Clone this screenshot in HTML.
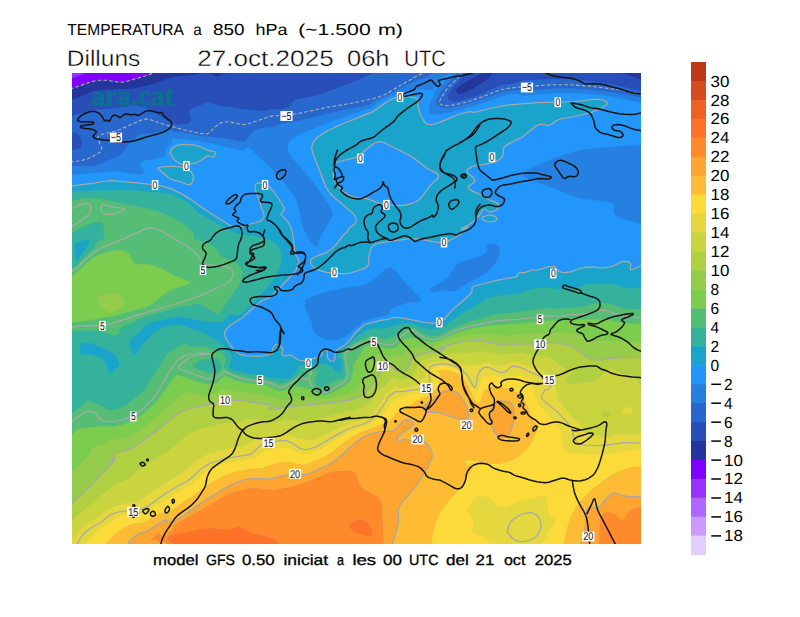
<!DOCTYPE html>
<html><head><meta charset="utf-8"><title>Temperatura a 850 hPa</title>
<style>
html,body{margin:0;padding:0;background:#fff;}
body{width:800px;height:617px;overflow:hidden;position:relative;font-family:"Liberation Sans",sans-serif;}
svg{position:absolute;left:0;top:0;}
text{font-family:"Liberation Sans",sans-serif;text-rendering:geometricPrecision;}
</style></head>
<body>
<svg width="800" height="617" viewBox="0 0 800 617">
<rect width="800" height="617" fill="#fff"/>
<defs><clipPath id="mc"><rect x="72" y="73" width="569" height="471"/></clipPath></defs>
<g clip-path="url(#mc)">
<rect x="72" y="73" width="569" height="471" fill="#2296fa"/>
<g shape-rendering="geometricPrecision">
<path fill="#9832ff" stroke="#9832ff" stroke-width="0.6" fill-rule="evenodd" d="M71.0,71.0 89.5,71.0 88.3,72.0 80.0,75.8 70.0,78.8 70.0,71.0 71.0,71.0Z"/>
<path fill="#8000ff" stroke="#8000ff" stroke-width="0.6" fill-rule="evenodd" d="M89.0,71.6 89.5,71.0 159.6,71.0 145.0,76.0 125.0,81.9 119.0,82.3 107.0,80.2 98.0,80.2 92.0,81.6 70.0,89.1 70.0,78.8 79.0,76.2 89.0,71.6Z"/>
<path fill="#24369b" stroke="#24369b" stroke-width="0.6" fill-rule="evenodd" d="M157.0,71.8 159.6,71.0 231.2,71.0 229.0,72.4 221.0,75.3 218.0,77.0 216.0,77.0 208.0,72.8 206.0,72.5 194.0,75.2 172.0,77.6 152.0,84.7 135.0,88.4 128.0,89.2 103.0,90.2 95.0,91.2 90.0,92.6 83.0,96.1 73.0,99.8 70.0,102.0 70.0,89.1 92.0,81.6 98.0,80.2 105.0,80.0 111.0,80.7 118.0,82.2 124.5,82.0 145.0,76.0 157.0,71.8ZM490.0,72.0 492.0,72.1 492.9,73.0 492.1,75.0 489.7,78.0 487.0,80.2 473.0,89.1 467.6,92.0 462.0,94.0 458.8,94.0 457.0,93.1 456.2,92.0 455.9,90.0 457.0,87.9 459.0,86.0 465.1,82.0 482.0,72.9 490.0,72.0ZM536.0,71.0 643.0,71.0 643.0,81.0 630.0,75.7 614.0,71.8 609.0,72.3 556.5,72.0 536.0,71.0Z"/>
<path fill="#284eb8" stroke="#284eb8" stroke-width="0.6" fill-rule="evenodd" d="M230.0,71.9 231.2,71.0 377.7,71.0 362.0,79.0 319.5,95.0 314.0,96.5 295.5,100.0 293.9,101.0 289.2,107.0 287.3,108.0 282.0,109.4 277.0,110.0 272.0,109.3 264.0,111.0 259.0,111.2 242.0,109.3 218.0,105.8 209.0,103.2 205.0,103.5 198.0,107.0 191.5,109.0 190.0,110.0 189.5,112.0 191.1,118.0 191.2,121.0 190.0,123.0 189.0,123.5 185.0,124.5 178.0,125.0 172.0,124.0 167.7,122.0 151.0,110.4 145.0,107.8 139.0,106.3 131.0,106.2 116.0,108.4 97.0,109.9 90.4,111.0 73.2,116.0 71.9,117.0 71.3,119.0 70.2,130.0 70.5,131.0 72.0,131.9 77.0,132.8 79.0,134.2 81.2,138.0 82.1,144.0 81.0,147.3 80.0,148.5 78.0,149.7 72.0,150.4 70.7,150.0 70.0,149.2 70.0,102.0 72.5,100.0 83.0,96.1 90.0,92.6 95.0,91.2 103.0,90.2 128.0,89.2 135.0,88.4 152.0,84.7 172.0,77.6 194.0,75.2 206.0,72.5 208.0,72.8 216.0,77.0 218.0,77.0 221.0,75.3 230.0,71.9ZM464.0,71.0 535.9,71.0 550.0,71.8 574.0,72.1 609.0,72.3 614.0,71.8 630.0,75.7 643.0,81.0 643.0,91.9 613.0,84.8 587.0,81.0 564.0,79.5 535.0,80.1 522.0,80.9 518.0,83.1 502.0,85.2 498.0,86.6 482.2,94.0 469.0,98.7 456.0,101.9 453.0,102.2 450.0,101.4 448.2,100.0 447.3,98.0 447.3,96.0 448.4,93.0 452.5,87.0 460.5,79.0 463.3,74.0 463.5,71.0 464.0,71.0ZM489.3,72.0 481.8,73.0 465.1,82.0 459.0,86.0 457.0,87.9 455.9,90.0 456.2,92.0 457.0,93.1 458.8,94.0 462.0,94.0 467.6,92.0 473.1,89.0 487.0,80.2 490.0,77.7 492.1,75.0 492.9,73.0 492.0,72.1 489.3,72.0Z"/>
<path fill="#2868ce" stroke="#2868ce" stroke-width="0.6" fill-rule="evenodd" d="M377.0,71.5 377.7,71.0 436.2,71.0 430.0,75.6 424.0,79.0 417.0,80.3 400.0,88.6 386.0,96.0 375.0,100.6 373.1,102.0 371.8,104.0 370.0,105.0 338.0,111.5 304.0,120.0 279.0,124.7 273.0,127.5 262.0,128.6 257.0,129.6 254.0,130.9 252.5,132.0 250.2,135.0 247.6,140.0 245.0,141.7 242.0,141.8 222.0,138.4 203.0,136.6 184.0,133.1 174.0,131.8 172.2,131.0 171.0,129.0 170.0,128.9 153.0,134.0 149.0,134.4 143.0,133.8 140.0,134.5 136.0,137.5 129.0,144.5 124.0,151.4 120.4,155.0 117.0,157.0 108.0,160.7 99.0,165.2 93.0,166.2 70.0,166.3 70.0,149.2 70.7,150.0 72.0,150.4 78.0,149.7 80.0,148.5 81.0,147.3 82.1,144.0 81.2,138.0 79.0,134.2 77.0,132.8 72.0,131.9 70.5,131.0 70.3,129.0 71.5,118.0 72.0,116.8 74.0,115.7 90.0,111.1 95.0,110.1 115.0,108.6 131.0,106.2 137.0,106.1 143.0,107.2 150.0,109.9 155.0,112.8 167.7,122.0 172.0,124.0 178.0,125.0 185.0,124.5 189.0,123.5 190.0,123.0 191.2,121.0 191.1,118.0 189.5,112.0 190.0,110.0 191.5,109.0 198.0,107.0 205.0,103.5 209.0,103.2 218.0,105.8 242.0,109.3 259.0,111.2 264.0,111.0 272.0,109.3 277.0,110.0 282.0,109.4 287.3,108.0 289.2,107.0 293.9,101.0 295.5,100.0 314.0,96.5 319.5,95.0 362.0,79.0 377.0,71.5ZM455.0,71.0 463.5,71.0 463.6,73.0 460.5,79.0 452.5,87.0 449.5,91.0 447.9,94.0 447.2,97.0 447.6,99.0 449.3,101.0 452.0,102.1 455.0,102.1 460.0,101.2 473.0,97.4 482.2,94.0 498.0,86.6 502.0,85.2 518.0,83.1 521.0,81.3 523.0,80.8 551.0,79.6 567.0,79.6 582.0,80.5 601.0,82.8 616.0,85.4 643.0,91.9 643.0,98.4 611.0,92.5 581.0,89.2 561.0,88.6 546.0,89.2 523.5,91.0 517.0,90.2 508.0,91.3 502.0,92.7 475.4,102.0 456.9,107.0 447.0,108.4 443.0,108.2 440.0,107.5 437.5,106.0 436.0,104.0 435.8,102.0 436.7,99.0 439.0,94.3 442.0,89.6 456.1,74.0 456.5,73.0 455.0,71.0Z"/>
<path fill="#2680e2" stroke="#2680e2" stroke-width="0.6" fill-rule="evenodd" d="M436.0,71.2 454.9,71.0 456.5,73.0 454.5,76.0 442.0,89.6 439.0,94.3 436.3,100.0 435.8,103.0 436.6,105.0 439.0,107.0 443.0,108.2 447.0,108.4 452.0,107.9 468.7,104.0 478.5,101.0 499.0,93.6 508.0,91.3 517.0,90.2 523.5,91.0 559.0,88.6 570.0,88.6 585.0,89.5 603.0,91.4 623.0,94.4 643.0,98.4 643.0,103.5 611.2,97.0 593.0,94.6 574.0,93.5 562.0,93.4 548.0,94.0 523.0,96.1 521.0,95.9 518.5,94.0 517.0,93.8 504.2,96.0 476.0,105.7 447.0,113.5 438.0,115.1 431.0,114.6 429.0,113.0 428.5,110.0 429.4,105.0 431.5,99.0 435.5,91.0 438.4,87.0 450.5,74.0 449.0,73.8 444.6,77.0 432.0,90.3 429.0,90.5 417.0,89.4 404.0,91.5 398.0,93.1 393.0,95.1 383.4,100.0 376.5,104.0 374.0,106.6 372.0,107.9 340.0,118.5 299.0,134.9 293.0,138.3 289.4,142.0 288.5,144.0 287.9,147.0 289.0,152.0 293.4,159.0 305.0,171.9 323.0,194.9 330.0,205.8 332.1,210.0 333.0,213.0 332.9,215.0 332.1,218.0 322.7,233.0 320.4,238.0 318.0,246.0 317.0,247.3 316.0,247.5 314.0,246.2 310.8,242.0 306.0,234.2 303.0,228.1 301.0,222.0 297.6,204.0 294.4,197.0 282.4,181.0 276.0,173.5 251.4,150.0 248.0,147.8 246.8,148.0 244.0,150.2 240.0,150.5 216.0,144.7 199.0,141.4 183.0,139.3 172.5,139.0 171.3,140.0 172.5,142.0 172.2,143.0 169.0,145.5 166.7,148.0 165.6,151.0 165.6,155.0 164.0,157.0 160.0,158.2 145.0,160.8 142.0,162.0 141.1,163.0 140.8,164.0 141.4,166.0 145.0,171.2 144.8,173.0 143.0,174.2 140.0,174.8 137.0,174.8 120.0,172.1 113.0,171.6 73.0,174.9 70.0,175.6 70.0,166.3 93.0,166.2 96.0,166.0 99.4,165.0 108.0,160.7 117.0,157.0 120.4,155.0 124.0,151.4 129.0,144.5 137.0,136.6 141.0,134.1 144.0,133.8 149.0,134.4 153.0,134.0 169.0,129.1 171.0,129.0 172.2,131.0 174.0,131.8 184.0,133.1 203.0,136.6 222.0,138.4 242.0,141.8 245.0,141.7 247.6,140.0 250.2,135.0 252.5,132.0 254.0,130.9 257.0,129.6 262.0,128.6 273.0,127.5 279.0,124.7 304.0,120.0 338.0,111.5 370.0,105.0 371.8,104.0 373.1,102.0 375.0,100.6 386.0,96.0 400.0,88.6 417.0,80.3 424.0,79.0 430.0,75.6 436.0,71.2ZM641.0,145.0 643.0,144.9 643.0,224.3 626.0,220.2 620.0,218.3 617.0,216.7 614.9,215.0 613.7,213.0 613.5,210.0 614.3,206.0 613.3,204.0 611.6,203.0 604.0,201.5 583.0,199.2 574.0,197.1 554.0,188.5 530.0,180.3 525.0,177.7 523.2,176.0 522.8,175.0 523.3,173.0 525.4,171.0 538.0,164.7 556.0,156.9 572.0,151.9 583.0,149.5 596.0,147.8 625.0,145.6 641.0,145.0ZM489.0,243.7 494.0,243.6 497.9,245.0 500.2,248.0 500.5,251.0 498.1,259.0 496.0,262.9 491.0,268.8 486.5,273.0 482.0,276.0 468.0,283.3 457.0,290.6 455.0,291.5 452.0,291.8 443.0,290.5 436.0,292.2 433.0,292.4 431.0,292.1 429.5,291.0 429.3,290.0 429.7,289.0 431.0,287.8 443.0,280.4 448.0,276.4 451.0,272.9 456.0,265.2 458.3,263.0 463.0,260.8 477.9,257.0 484.0,253.9 485.9,252.0 487.0,250.0 486.5,246.0 486.8,245.0 489.0,243.7ZM387.0,267.7 389.0,267.2 391.0,267.4 393.0,268.3 394.9,270.0 408.6,286.0 420.5,298.0 421.6,300.0 421.3,301.0 419.0,301.9 409.0,302.8 399.0,305.7 394.0,307.7 391.9,309.0 390.1,311.0 389.0,314.0 387.0,315.7 373.0,318.4 363.0,321.4 358.0,326.2 355.0,328.2 348.0,335.5 343.4,338.0 338.0,340.0 332.0,340.9 326.0,340.1 320.7,338.0 315.0,333.9 312.6,330.0 311.2,322.0 305.2,309.0 304.6,306.0 304.5,301.0 305.6,299.0 318.0,293.9 328.0,291.0 342.8,288.0 360.0,285.4 366.0,283.7 372.7,280.0 387.0,267.7Z"/>
<path fill="#2296fa" stroke="#2296fa" stroke-width="0.6" fill-rule="evenodd" d="M449.0,73.8 450.5,74.0 438.4,87.0 435.5,91.0 431.5,99.0 429.4,105.0 428.5,110.0 429.0,113.0 431.0,114.6 438.0,115.1 447.0,113.5 476.0,105.7 504.2,96.0 517.0,93.8 518.5,94.0 521.0,95.9 523.0,96.1 548.0,94.0 562.0,93.4 574.0,93.5 593.0,94.6 611.2,97.0 643.0,103.5 643.0,144.9 625.0,145.6 596.0,147.8 583.0,149.5 572.0,151.9 556.0,156.9 538.0,164.7 525.4,171.0 523.3,173.0 522.8,175.0 523.2,176.0 525.0,177.7 530.0,180.3 554.0,188.5 574.0,197.1 583.0,199.2 604.0,201.5 611.6,203.0 613.3,204.0 614.3,206.0 613.5,210.0 613.7,213.0 614.9,215.0 617.0,216.7 620.0,218.3 626.0,220.2 643.0,224.3 643.0,264.8 631.0,270.0 630.1,269.0 630.9,265.0 630.2,263.0 628.0,261.6 624.0,261.4 620.0,262.4 613.0,266.0 609.0,267.2 602.0,267.8 591.0,266.9 586.0,267.1 580.0,268.4 571.0,271.8 565.0,272.7 562.0,272.4 559.0,271.3 557.3,270.0 556.0,267.8 555.0,266.9 553.0,266.6 549.0,266.7 538.0,269.9 532.0,270.2 525.0,272.4 519.0,272.9 518.0,273.8 517.0,276.0 515.0,277.1 499.0,279.9 474.8,286.0 472.6,287.0 472.1,288.0 471.9,292.0 470.4,294.0 462.8,301.0 453.0,309.1 444.3,319.0 441.8,321.0 439.0,322.4 435.0,323.1 426.0,322.6 402.0,317.9 396.0,317.5 391.9,318.0 388.0,319.4 381.0,320.2 378.0,321.2 370.0,322.8 364.0,324.7 355.1,333.0 351.0,338.6 347.0,343.0 343.0,346.2 337.0,349.7 335.7,351.0 334.9,353.0 335.0,359.2 334.0,361.0 333.0,361.4 330.5,361.0 328.1,359.0 327.4,357.0 327.3,351.0 326.5,350.0 325.0,349.3 323.0,349.5 321.4,351.0 322.3,354.0 322.1,355.0 321.1,356.0 306.0,360.8 303.0,360.9 298.8,360.0 296.7,359.0 292.0,355.6 290.0,354.9 285.0,355.9 283.0,355.9 282.1,355.0 282.0,354.0 283.1,351.0 282.9,349.0 279.0,344.7 277.0,343.9 275.2,345.0 272.8,348.0 272.4,350.0 273.4,352.0 273.3,353.0 272.0,353.6 266.0,355.2 260.0,356.1 253.0,356.2 246.0,355.7 241.0,354.6 238.0,353.1 234.4,350.0 231.0,346.0 227.0,340.2 225.0,336.0 224.6,333.0 225.6,330.0 230.5,325.0 243.0,317.5 247.3,313.0 262.0,300.5 269.0,297.9 271.0,296.6 285.5,282.0 292.8,274.0 296.3,269.0 298.7,263.0 298.8,261.0 298.4,259.0 295.9,255.0 294.9,252.0 292.9,235.0 291.2,228.0 288.0,221.8 281.4,215.0 281.1,214.0 281.6,213.0 284.0,210.3 284.0,208.0 282.0,204.0 273.3,191.0 270.8,188.0 266.0,184.8 260.0,182.8 257.0,183.3 255.9,184.0 255.0,186.0 255.7,191.0 263.9,214.0 264.0,217.0 262.8,219.0 260.0,221.1 254.3,223.0 243.3,226.0 236.0,227.1 232.0,226.4 229.4,225.0 210.1,213.0 191.0,199.7 183.0,194.6 173.0,189.6 163.0,186.4 157.0,185.2 137.0,182.9 111.0,180.6 106.0,181.0 94.0,183.2 70.0,186.0 70.0,175.6 72.0,175.0 113.0,171.6 120.0,172.1 137.0,174.8 141.0,174.7 143.5,174.0 144.8,173.0 145.0,171.0 141.4,166.0 140.8,164.0 141.1,163.0 142.0,162.0 145.0,160.8 160.0,158.2 164.0,157.0 165.6,155.0 165.6,151.0 166.7,148.0 169.0,145.5 172.2,143.0 172.5,142.0 171.3,140.0 172.5,139.0 183.0,139.3 199.0,141.4 216.0,144.7 240.0,150.5 244.0,150.2 246.8,148.0 248.0,147.8 251.4,150.0 276.0,173.5 282.4,181.0 293.7,196.0 296.1,200.0 297.6,204.0 301.0,222.0 303.9,230.0 308.0,237.6 312.9,245.0 315.0,247.2 316.0,247.5 317.0,247.3 318.0,246.0 320.4,238.0 322.7,233.0 332.1,218.0 332.9,215.0 332.8,212.0 329.0,204.0 320.0,190.8 305.1,172.0 294.2,160.0 290.6,155.0 288.6,151.0 287.9,147.0 288.5,144.0 290.0,141.1 294.0,137.6 301.1,134.0 340.0,118.5 372.0,107.9 374.0,106.6 376.5,104.0 383.4,100.0 397.0,93.5 404.0,91.5 417.0,89.4 429.0,90.5 432.0,90.3 444.6,77.0 449.0,73.8ZM398.4,97.0 394.5,98.0 388.1,101.0 373.0,111.6 339.9,125.0 327.1,131.0 317.8,137.0 314.9,140.0 312.9,143.0 312.0,145.5 311.7,148.0 313.0,153.9 326.0,187.1 329.9,193.0 334.0,197.3 353.0,213.3 355.5,217.0 356.3,221.0 355.6,223.0 349.4,228.0 347.1,232.0 344.0,234.5 336.5,244.0 331.6,249.0 326.0,252.6 314.6,257.0 311.5,259.0 310.8,260.0 310.4,262.0 311.4,265.0 314.0,267.6 318.0,269.9 326.0,272.3 345.0,273.9 350.6,273.0 365.0,268.1 367.7,266.0 368.7,264.0 368.9,256.0 370.8,249.0 372.0,247.0 374.0,245.1 378.0,243.3 396.0,240.3 413.0,238.7 420.0,239.2 435.0,242.2 442.0,242.6 448.0,241.3 454.0,238.3 459.1,235.0 467.2,228.0 467.4,227.0 467.0,226.5 463.0,229.3 462.0,229.7 461.2,229.0 462.0,228.0 468.0,225.5 475.2,220.0 479.0,216.0 483.0,209.8 485.0,209.1 489.0,211.9 492.0,211.9 495.0,210.8 497.0,209.3 498.0,208.0 498.8,206.0 498.3,204.0 497.0,202.9 489.6,200.0 480.0,194.5 471.0,190.4 468.8,189.0 468.1,188.0 468.1,187.0 469.0,185.9 474.0,182.4 474.8,180.0 473.0,177.4 467.5,173.0 466.9,171.0 468.0,169.0 472.0,166.5 491.0,163.2 495.0,162.0 498.8,160.0 501.3,158.0 502.8,156.0 503.4,154.0 503.2,149.0 505.0,146.2 509.0,143.6 522.5,137.0 535.0,126.7 538.0,124.8 541.0,124.2 547.0,125.4 549.0,125.3 552.0,124.0 556.0,120.8 560.0,119.0 576.8,116.0 591.0,112.5 597.0,110.2 605.0,106.2 607.0,104.5 607.3,103.0 606.0,101.5 602.5,100.0 596.0,99.2 575.0,101.5 538.0,102.6 509.0,104.9 491.4,108.0 474.0,112.4 470.0,111.6 467.4,112.0 457.1,115.0 439.0,122.6 433.0,124.4 430.0,124.7 427.0,124.1 425.3,123.0 421.6,117.0 418.4,109.0 417.8,105.0 418.3,100.0 417.0,98.1 414.0,97.3 408.0,96.8 398.4,97.0ZM178.7,145.0 176.0,145.9 172.6,148.0 171.0,150.1 170.3,153.0 173.0,158.0 175.0,160.3 179.0,163.2 182.0,164.3 188.0,164.5 195.0,163.1 201.0,160.5 207.0,156.2 209.0,155.9 212.0,157.2 213.0,157.2 214.4,156.0 215.3,154.0 215.1,152.0 214.0,151.5 209.0,150.7 201.1,147.0 196.0,145.4 187.0,144.3 178.7,145.0ZM161.0,167.0 158.2,168.0 158.7,169.0 168.0,177.2 172.0,179.7 181.0,182.0 188.0,184.8 190.0,184.7 191.0,184.1 192.5,182.0 193.5,178.0 193.0,174.6 191.0,171.6 187.0,168.9 182.0,167.2 176.0,166.5 170.0,166.3 161.0,167.0ZM485.4,216.0 482.9,217.0 482.0,218.0 482.1,219.0 483.0,220.0 486.0,221.3 490.0,221.9 494.0,221.5 496.0,220.6 496.9,219.0 496.0,216.9 493.0,215.4 490.0,215.0 485.4,216.0ZM488.2,244.0 486.8,245.0 486.5,246.0 487.1,249.0 486.6,251.0 484.0,253.9 477.9,257.0 463.0,260.8 458.3,263.0 456.0,265.2 451.0,272.9 448.0,276.4 443.0,280.4 431.0,287.8 429.7,289.0 429.3,290.0 429.5,291.0 431.0,292.1 433.0,292.4 436.0,292.2 443.0,290.5 452.0,291.8 455.0,291.5 457.0,290.6 468.0,283.3 482.0,276.0 486.5,273.0 492.0,267.7 496.6,262.0 499.0,256.6 500.6,250.0 499.7,247.0 497.0,244.4 493.0,243.5 488.2,244.0ZM386.6,268.0 372.7,280.0 366.0,283.7 360.0,285.4 342.8,288.0 328.0,291.0 318.0,293.9 305.6,299.0 304.5,301.0 304.6,306.0 305.2,309.0 311.2,322.0 312.6,330.0 315.0,333.9 320.7,338.0 326.0,340.1 332.0,340.9 338.0,340.0 343.4,338.0 348.0,335.5 355.0,328.2 358.0,326.2 363.0,321.4 373.0,318.4 387.0,315.7 389.0,314.0 390.1,311.0 391.9,309.0 394.0,307.7 399.0,305.7 409.0,302.8 419.0,301.9 421.3,301.0 421.6,300.0 420.5,298.0 408.6,286.0 394.9,270.0 393.0,268.3 391.0,267.4 389.0,267.2 386.6,268.0ZM378.0,141.9 381.0,141.7 384.0,142.5 410.0,155.8 416.0,159.7 426.4,168.0 436.0,173.1 438.3,175.0 438.6,177.0 438.0,178.2 430.7,185.0 421.0,198.0 418.0,200.5 412.0,203.5 404.0,205.3 394.0,205.3 383.0,204.0 376.0,202.2 367.0,198.7 356.0,197.6 351.0,196.2 347.0,194.1 343.0,191.3 337.0,184.8 334.4,180.0 333.3,175.0 333.9,166.0 335.0,163.0 343.0,160.5 353.0,158.4 356.0,157.4 359.7,155.0 371.0,145.5 375.0,143.0 378.0,141.9Z"/>
<path fill="#1aa4cc" stroke="#1aa4cc" stroke-width="0.6" fill-rule="evenodd" d="M399.0,96.9 404.0,96.6 410.0,96.9 417.0,98.1 418.3,100.0 417.8,105.0 418.4,109.0 421.6,117.0 425.3,123.0 427.0,124.1 430.0,124.7 433.0,124.4 439.0,122.6 457.1,115.0 467.4,112.0 470.0,111.6 474.0,112.4 491.4,108.0 509.0,104.9 538.0,102.6 575.0,101.5 596.0,99.2 602.5,100.0 606.0,101.5 607.3,103.0 607.0,104.5 605.0,106.2 597.0,110.2 591.0,112.5 576.8,116.0 560.0,119.0 556.0,120.8 552.0,124.0 549.0,125.3 547.0,125.4 541.0,124.2 538.0,124.8 535.0,126.7 522.5,137.0 509.0,143.6 505.0,146.2 503.2,149.0 503.4,154.0 502.8,156.0 501.3,158.0 498.8,160.0 495.0,162.0 491.0,163.2 472.0,166.5 468.0,169.0 466.9,171.0 467.5,173.0 473.0,177.4 474.8,180.0 474.0,182.4 469.0,185.9 468.1,187.0 468.1,188.0 468.8,189.0 471.0,190.4 480.0,194.5 489.6,200.0 497.0,202.9 498.3,204.0 498.8,206.0 498.0,208.0 497.0,209.3 495.0,210.8 492.0,211.9 489.0,211.9 485.0,209.1 483.0,209.8 479.0,216.0 475.2,220.0 468.0,225.5 462.0,228.0 461.2,229.0 462.0,229.7 463.0,229.3 467.0,226.5 467.4,227.0 467.2,228.0 459.1,235.0 454.0,238.3 448.0,241.3 442.0,242.6 435.0,242.2 420.0,239.2 413.0,238.7 396.0,240.3 378.0,243.3 374.0,245.1 372.0,247.0 370.8,249.0 368.9,256.0 368.7,264.0 367.7,266.0 365.0,268.1 350.6,273.0 345.0,273.9 326.0,272.3 318.0,269.9 314.0,267.6 311.4,265.0 310.4,262.0 310.8,260.0 311.5,259.0 314.6,257.0 326.0,252.6 331.6,249.0 336.5,244.0 344.0,234.5 347.1,232.0 349.4,228.0 355.6,223.0 356.3,221.0 355.5,217.0 353.0,213.3 334.0,197.3 329.9,193.0 326.0,187.1 313.0,153.9 311.7,148.0 312.0,145.5 312.9,143.0 314.9,140.0 317.8,137.0 327.1,131.0 339.9,125.0 373.0,111.6 388.1,101.0 394.5,98.0 399.0,96.9ZM377.7,142.0 375.0,143.0 371.0,145.5 359.7,155.0 356.0,157.4 353.0,158.4 343.0,160.5 335.0,163.0 333.9,166.0 333.3,175.0 334.4,180.0 337.0,184.8 343.0,191.3 347.0,194.1 351.0,196.2 356.0,197.6 367.0,198.7 376.0,202.2 383.0,204.0 394.0,205.3 404.0,205.3 412.0,203.5 418.0,200.5 421.0,198.0 430.7,185.0 438.0,178.2 438.6,177.0 438.3,175.0 436.0,173.1 426.4,168.0 416.0,159.7 410.0,155.8 384.0,142.5 381.0,141.7 377.7,142.0ZM179.0,144.9 187.0,144.3 196.0,145.4 201.1,147.0 209.0,150.7 214.0,151.5 215.1,152.0 215.3,154.0 214.4,156.0 213.0,157.2 212.0,157.2 209.0,155.9 207.0,156.2 201.0,160.5 195.0,163.1 188.0,164.5 182.0,164.3 179.0,163.2 175.0,160.3 173.0,158.0 170.3,153.0 171.0,150.1 172.6,148.0 176.0,145.9 179.0,144.9ZM161.0,167.0 170.0,166.3 176.0,166.5 182.0,167.2 187.0,168.9 191.0,171.6 193.0,174.6 193.5,178.0 192.5,182.0 191.0,184.1 190.0,184.7 188.0,184.8 181.0,182.0 172.0,179.7 168.0,177.2 158.7,169.0 158.2,168.0 161.0,167.0ZM106.0,181.0 114.0,180.7 154.0,184.8 163.0,186.4 170.0,188.5 175.0,190.5 183.0,194.6 213.3,215.0 231.0,226.0 235.0,227.0 243.3,226.0 257.0,222.2 261.0,220.5 263.5,218.0 264.1,215.0 263.4,212.0 255.2,189.0 255.0,186.0 255.9,184.0 259.0,182.7 264.0,183.9 269.0,186.5 272.5,190.0 282.0,204.0 284.0,208.0 284.0,210.3 281.6,213.0 281.1,214.0 281.4,215.0 288.0,221.8 291.2,228.0 292.9,235.0 294.9,252.0 295.9,255.0 298.4,259.0 298.8,261.0 298.7,263.0 296.3,269.0 292.8,274.0 285.5,282.0 271.0,296.6 269.0,297.9 262.0,300.5 247.3,313.0 243.0,317.5 230.5,325.0 225.6,330.0 224.6,333.0 225.0,336.0 229.0,343.3 233.0,348.4 237.0,352.3 240.0,354.2 244.0,355.4 251.0,356.2 259.0,356.1 265.0,355.4 272.0,353.6 273.3,353.0 273.4,352.0 272.4,350.0 272.8,348.0 275.2,345.0 277.0,343.9 279.0,344.7 282.9,349.0 283.1,351.0 282.0,354.0 282.1,355.0 283.0,355.9 285.0,355.9 290.0,354.9 292.0,355.6 296.7,359.0 298.8,360.0 303.0,360.9 306.0,360.8 321.1,356.0 322.1,355.0 322.3,354.0 321.4,351.0 323.0,349.5 325.0,349.3 326.5,350.0 327.3,351.0 327.4,357.0 328.1,359.0 330.5,361.0 333.0,361.4 334.0,361.0 335.0,359.2 334.9,353.0 335.7,351.0 337.0,349.7 343.0,346.2 347.0,343.0 351.0,338.6 355.1,333.0 364.0,324.7 370.0,322.8 378.0,321.2 381.0,320.2 388.0,319.4 391.9,318.0 396.0,317.5 402.0,317.9 425.0,322.5 433.0,323.1 438.0,322.7 441.0,321.4 444.3,319.0 453.0,309.1 462.8,301.0 470.4,294.0 471.9,292.0 472.1,288.0 473.0,286.7 495.0,280.8 515.0,277.1 517.0,276.0 518.0,273.8 519.0,272.9 525.0,272.4 532.0,270.2 538.0,269.9 548.0,266.9 552.0,266.5 555.0,266.9 556.0,267.8 557.3,270.0 559.0,271.3 562.0,272.4 566.0,272.6 571.0,271.8 580.0,268.4 586.0,267.1 591.0,266.9 602.0,267.8 609.0,267.2 612.9,266.0 621.0,262.1 624.0,261.4 627.0,261.4 629.0,262.0 630.7,264.0 630.8,266.0 630.1,269.0 631.0,270.0 643.0,264.8 643.0,285.7 636.0,288.5 630.0,288.7 626.0,288.2 620.0,286.0 611.0,284.2 591.0,284.3 586.0,285.1 578.0,287.8 566.0,289.3 559.0,289.4 545.0,287.5 536.0,288.5 529.0,290.0 522.0,292.8 500.0,295.8 487.0,298.5 481.0,303.0 460.0,314.8 446.0,325.4 441.0,328.2 437.0,329.6 433.0,329.8 428.0,329.2 414.0,324.5 408.0,323.5 396.7,325.0 386.0,328.6 378.0,328.9 374.0,328.5 369.0,329.6 365.0,331.0 358.0,336.2 352.0,342.0 340.0,352.4 339.2,354.0 339.2,357.0 341.8,361.0 342.2,363.0 340.8,372.0 340.0,373.0 339.0,373.0 337.0,372.0 330.0,366.0 326.0,364.4 323.0,364.0 315.0,364.6 310.4,367.0 308.0,367.5 307.0,367.4 304.0,365.7 300.0,365.6 299.0,366.1 298.0,367.4 296.0,373.3 294.8,375.0 290.2,378.0 285.0,379.0 279.0,379.0 266.3,377.0 249.3,374.0 236.0,371.0 233.4,370.0 229.0,367.4 228.8,366.0 231.7,358.0 231.3,356.0 225.0,348.0 217.0,340.5 201.0,332.0 195.0,330.9 187.0,327.1 177.0,324.6 168.0,326.3 163.0,327.7 154.0,333.3 144.1,343.0 137.0,353.2 135.0,355.2 134.0,355.0 133.0,353.7 129.6,347.0 129.4,344.0 130.6,339.0 131.3,338.0 136.0,335.1 146.2,325.0 149.1,323.0 155.0,321.2 179.0,316.2 193.0,319.3 198.0,319.3 201.6,321.0 204.0,321.6 221.0,321.9 222.8,321.0 230.0,314.7 232.0,314.3 239.0,314.7 241.0,314.1 264.8,290.0 273.0,279.9 277.2,273.0 280.0,266.0 281.5,259.0 281.3,254.0 280.0,250.2 278.0,246.8 275.0,243.5 272.0,241.5 266.0,239.1 255.0,236.3 249.0,235.3 240.0,234.6 236.0,233.6 231.0,231.6 199.0,213.5 197.0,212.0 192.8,207.0 190.5,205.0 184.0,201.0 175.0,196.4 173.0,194.8 161.1,193.0 125.0,190.0 87.0,191.1 73.0,191.8 70.0,192.6 70.0,186.0 95.0,183.1 106.0,181.0ZM486.0,215.8 490.0,215.0 493.0,215.4 496.0,216.9 496.9,219.0 496.5,220.0 495.4,221.0 493.0,221.7 489.0,221.8 485.1,221.0 482.9,220.0 482.1,219.0 482.0,218.0 483.0,216.9 486.0,215.8ZM85.0,239.7 88.0,239.4 89.0,240.0 89.2,242.0 88.6,245.0 79.4,258.0 77.0,260.2 76.0,260.1 74.8,257.0 74.2,253.0 74.2,248.0 75.0,244.0 76.0,243.0 85.0,239.7ZM82.0,342.6 84.0,342.3 91.0,343.1 109.0,350.8 113.0,353.0 115.4,355.0 118.0,360.0 119.7,364.0 119.4,366.0 112.0,372.1 110.0,372.8 108.0,370.0 104.3,361.0 102.2,359.0 92.0,354.7 89.0,354.4 82.0,355.0 80.0,354.3 79.5,352.0 79.6,347.0 80.6,344.0 82.0,342.6Z"/>
<path fill="#35b29b" stroke="#35b29b" stroke-width="0.6" fill-rule="evenodd" d="M90.0,191.0 126.0,190.1 161.1,193.0 173.0,194.8 175.0,196.4 184.0,201.0 190.5,205.0 192.8,207.0 197.0,212.0 199.0,213.5 231.0,231.6 236.0,233.6 240.0,234.6 254.0,236.1 265.8,239.0 271.1,241.0 274.3,243.0 277.0,245.5 279.4,249.0 281.0,253.0 281.5,259.0 280.3,265.0 278.0,271.3 274.0,278.4 270.0,284.0 265.0,289.8 241.0,314.1 239.0,314.7 232.0,314.3 230.0,314.7 222.8,321.0 221.0,321.9 204.0,321.6 201.6,321.0 198.0,319.3 193.0,319.3 179.0,316.2 155.0,321.2 149.1,323.0 146.2,325.0 136.0,335.1 131.3,338.0 130.6,339.0 129.4,344.0 129.6,347.0 133.0,353.7 134.0,355.0 135.0,355.2 137.0,353.2 144.1,343.0 154.0,333.3 160.5,329.0 164.0,327.3 175.0,324.9 178.0,324.7 187.0,327.1 195.0,330.9 201.0,332.0 217.0,340.5 225.0,348.0 231.3,356.0 231.7,358.0 228.8,367.0 229.5,368.0 233.4,370.0 244.5,373.0 260.3,376.0 279.0,379.0 285.2,379.0 290.2,378.0 294.8,375.0 296.0,373.3 298.3,367.0 299.0,366.1 301.0,365.5 304.0,365.7 307.0,367.4 308.0,367.5 310.4,367.0 314.0,365.0 316.0,364.4 323.0,364.0 326.0,364.4 331.0,366.7 337.0,372.0 339.0,373.0 340.0,373.0 340.8,372.0 342.2,363.0 341.8,361.0 339.2,357.0 339.1,355.0 339.6,353.0 341.3,351.0 352.0,342.0 358.0,336.2 366.0,330.6 374.0,328.5 378.0,328.9 386.0,328.6 396.7,325.0 408.0,323.5 414.0,324.5 428.0,329.2 433.0,329.8 437.0,329.6 441.0,328.2 446.0,325.4 460.0,314.8 481.0,303.0 487.0,298.5 500.0,295.8 522.0,292.8 529.0,290.0 534.0,288.9 545.0,287.5 559.0,289.4 567.0,289.2 578.0,287.8 586.0,285.1 591.0,284.3 611.0,284.2 620.0,286.0 626.0,288.2 630.0,288.7 636.0,288.5 643.0,285.7 643.0,309.5 632.0,309.4 624.0,308.6 619.0,307.4 611.0,303.9 604.0,303.0 593.0,304.2 581.0,307.1 560.0,308.8 547.0,308.3 542.0,308.7 528.0,311.1 501.0,313.7 492.0,315.1 488.0,316.7 471.0,321.2 465.0,323.2 451.0,329.4 440.0,335.4 437.0,336.3 432.0,336.5 426.0,335.2 422.0,333.2 415.0,328.6 411.0,327.3 407.9,328.0 394.0,336.6 386.0,339.4 382.0,339.3 377.0,338.1 373.0,336.6 370.0,336.9 356.0,342.4 350.0,346.1 345.5,350.0 343.4,353.0 342.5,356.0 344.5,363.0 344.6,368.0 345.5,374.0 344.8,377.0 344.0,378.2 342.0,379.7 338.0,379.8 330.0,383.1 328.0,384.1 325.0,387.0 323.0,387.6 321.0,387.5 317.0,385.6 314.7,383.0 314.4,381.0 314.7,379.0 317.9,372.0 317.6,371.0 317.0,370.7 312.0,369.7 306.2,371.0 307.0,371.4 307.3,374.0 306.4,376.0 305.0,377.0 303.0,376.8 301.5,376.0 300.0,373.0 298.7,375.0 292.0,380.5 283.0,384.0 279.0,384.3 271.3,381.0 247.0,377.6 239.0,375.5 233.0,373.3 227.9,371.0 223.6,368.0 223.5,366.0 225.1,362.0 225.4,359.0 223.5,355.0 220.0,351.9 217.0,350.6 211.0,349.1 206.0,346.9 202.0,346.7 192.0,347.1 186.0,344.4 184.0,344.1 179.0,346.2 170.0,352.2 167.0,354.8 145.2,389.0 139.0,395.0 125.0,406.1 118.5,409.0 110.0,410.6 108.0,410.1 105.0,408.6 99.0,404.4 91.0,401.7 88.0,401.3 86.0,402.1 79.8,408.0 70.0,414.8 70.0,333.6 71.5,332.0 74.0,330.9 80.0,330.0 98.0,330.8 106.0,332.7 112.0,335.2 115.0,335.0 118.0,333.9 119.0,332.7 120.6,328.0 122.0,326.3 134.0,322.0 138.0,319.0 140.0,318.1 181.0,306.3 183.0,305.9 188.0,306.1 197.0,303.3 200.0,304.0 215.0,312.4 217.0,313.1 219.0,312.9 221.0,310.8 238.3,286.0 240.7,281.0 241.9,276.0 241.8,272.0 241.0,269.0 239.4,266.0 236.7,263.0 233.0,260.8 221.4,257.0 220.0,255.3 218.8,252.0 217.0,249.3 214.5,247.0 211.2,245.0 205.0,242.5 194.8,240.0 193.3,233.0 191.0,229.5 176.0,219.8 164.0,213.6 157.0,210.9 150.0,209.0 128.0,205.1 101.0,199.0 92.0,198.3 85.0,198.4 79.0,199.3 70.0,201.5 70.0,192.6 73.0,191.8 90.0,191.0ZM81.3,343.0 79.6,347.0 79.5,352.0 80.0,354.3 82.0,355.0 89.0,354.4 92.0,354.7 102.2,359.0 104.3,361.0 108.0,370.0 110.0,372.8 112.0,372.1 119.4,366.0 119.7,364.0 118.0,360.0 115.4,355.0 113.0,353.0 109.0,350.8 91.0,343.1 84.0,342.3 81.3,343.0ZM302.6,370.0 301.2,371.0 302.0,371.5 304.0,371.6 305.9,371.0 304.9,370.0 302.6,370.0ZM97.0,221.9 101.0,222.0 103.0,223.2 104.8,235.0 104.6,238.0 103.4,239.0 98.0,241.5 97.0,242.7 94.8,248.0 89.0,252.5 80.0,262.0 78.0,265.1 73.0,267.4 70.0,267.2 70.0,250.8 70.5,241.0 71.0,236.0 72.0,233.1 82.0,226.8 87.0,225.3 91.0,222.9 97.0,221.9ZM84.0,240.0 76.0,243.0 75.0,244.0 74.2,248.0 74.2,253.0 74.8,257.0 76.0,260.1 77.0,260.2 79.4,258.0 88.6,245.0 89.2,242.0 89.0,240.0 87.0,239.4 84.0,240.0ZM211.0,357.9 214.0,357.4 216.0,357.7 218.0,358.8 219.8,361.0 221.6,365.0 221.7,367.0 221.0,369.0 219.0,371.7 217.0,373.2 210.0,373.5 196.7,369.0 192.7,367.0 192.5,366.0 193.1,365.0 199.4,360.0 203.0,359.0 209.0,358.6 211.0,357.9Z"/>
<path fill="#56be74" stroke="#56be74" stroke-width="0.6" fill-rule="evenodd" d="M81.0,198.9 90.0,198.2 101.0,199.0 128.0,205.1 149.0,208.8 160.0,212.0 172.9,218.0 182.9,224.0 191.6,230.0 193.6,234.0 194.3,239.0 194.8,240.0 206.0,242.8 212.0,245.4 215.0,247.4 217.6,250.0 220.0,255.3 221.4,257.0 233.0,260.8 237.8,264.0 240.6,268.0 241.9,273.0 241.3,279.0 239.0,284.7 234.3,292.0 221.0,310.8 219.0,312.9 217.0,313.1 215.0,312.4 200.0,304.0 197.0,303.3 188.0,306.1 183.0,305.9 181.0,306.3 140.0,318.1 138.0,319.0 134.0,322.0 122.0,326.3 120.6,328.0 119.0,332.7 118.0,333.9 115.0,335.0 112.0,335.2 106.0,332.7 99.0,330.9 82.0,330.0 78.0,330.2 73.0,331.2 70.0,333.6 70.0,322.8 89.0,320.1 114.0,315.7 145.0,307.3 152.0,304.0 163.1,295.0 170.0,290.2 174.0,288.4 188.0,284.2 189.7,283.0 189.7,282.0 189.0,281.5 175.0,276.1 161.0,268.7 156.0,266.6 148.0,264.5 138.0,264.4 135.0,263.8 132.8,262.0 130.0,256.1 127.6,253.0 125.0,251.2 121.0,250.3 116.0,250.5 108.2,252.0 101.4,254.0 96.8,256.0 90.0,260.5 72.0,276.6 70.0,277.9 70.0,267.2 73.0,267.4 78.0,265.1 80.0,262.0 89.0,252.5 94.8,248.0 97.0,242.7 98.0,241.5 103.4,239.0 104.6,238.0 104.9,237.0 103.7,226.0 102.8,223.0 101.0,222.0 99.0,221.8 91.0,222.9 87.0,225.3 81.0,227.3 72.0,233.1 70.8,237.0 70.0,250.8 70.0,201.5 81.0,198.9ZM603.0,303.0 611.0,303.9 619.0,307.4 624.0,308.6 632.0,309.4 643.0,309.5 643.0,324.3 624.0,323.3 617.0,322.2 609.0,320.2 599.0,319.4 572.0,320.0 559.0,321.0 545.0,320.9 528.0,322.9 492.0,325.6 472.0,328.5 455.0,333.6 441.3,340.0 434.0,342.1 426.0,341.4 417.0,338.3 407.0,338.2 405.0,338.9 403.0,340.3 396.5,347.0 394.0,348.2 391.0,348.7 387.0,348.6 377.0,345.8 368.0,345.7 366.0,346.3 364.2,348.0 353.5,365.0 353.0,367.0 353.5,371.0 352.0,375.0 351.2,380.0 349.9,382.0 344.0,386.3 329.4,394.0 326.0,395.0 323.0,394.9 320.0,394.1 307.0,388.3 295.0,386.3 290.0,387.8 283.0,391.3 280.0,391.4 266.0,385.9 244.0,383.0 235.0,380.5 225.0,376.2 223.0,377.0 217.0,382.8 209.0,384.6 206.0,384.7 180.0,376.0 177.0,375.4 175.7,376.0 174.0,377.9 161.2,396.0 155.0,403.5 144.7,413.0 135.0,419.9 125.0,424.2 115.0,426.5 109.0,426.9 103.0,426.3 78.0,429.2 76.2,430.0 73.0,433.8 70.0,436.1 70.0,414.8 79.8,408.0 86.0,402.1 88.0,401.3 91.0,401.7 99.0,404.4 105.0,408.6 108.0,410.1 110.0,410.6 118.5,409.0 125.0,406.1 139.0,395.0 145.2,389.0 167.0,354.8 170.0,352.2 178.0,346.8 183.0,344.4 186.0,344.4 192.0,347.1 202.0,346.7 206.0,346.9 211.0,349.1 217.0,350.6 220.0,351.9 223.5,355.0 225.4,359.0 225.1,362.0 223.5,366.0 223.6,368.0 227.9,371.0 233.0,373.3 239.0,375.5 247.0,377.6 271.3,381.0 279.0,384.3 283.0,384.0 292.0,380.5 298.7,375.0 300.0,373.0 301.5,376.0 303.0,376.8 305.0,377.0 306.4,376.0 307.3,374.0 307.0,371.4 306.2,371.0 312.0,369.7 317.0,370.7 317.6,371.0 317.9,372.0 314.7,379.0 314.4,381.0 314.7,383.0 317.0,385.6 321.0,387.5 323.0,387.6 325.0,387.0 329.0,383.5 338.0,379.8 342.0,379.7 344.0,378.2 345.2,376.0 345.5,374.0 344.6,368.0 344.5,363.0 342.5,356.0 342.9,354.0 343.9,352.0 347.6,348.0 355.0,343.0 360.0,340.5 369.0,337.1 373.0,336.6 377.0,338.1 382.0,339.3 386.0,339.4 394.0,336.6 406.1,329.0 410.0,327.3 414.0,328.1 423.0,333.8 427.0,335.5 432.0,336.5 437.0,336.3 440.0,335.4 451.0,329.4 465.0,323.2 471.0,321.2 488.0,316.7 493.0,314.9 527.0,311.2 544.0,308.5 560.0,308.8 581.0,307.1 593.0,304.2 603.0,303.0ZM210.8,358.0 209.0,358.6 203.0,359.0 199.4,360.0 193.1,365.0 192.5,366.0 192.7,367.0 196.7,369.0 210.0,373.5 217.0,373.2 219.0,371.7 221.0,369.0 221.7,367.0 221.6,365.0 219.8,361.0 217.0,358.1 214.0,357.4 210.8,358.0ZM303.0,369.9 304.9,370.0 305.9,371.0 304.0,371.6 302.0,371.5 301.2,371.0 303.0,369.9Z"/>
<path fill="#7ccc4e" stroke="#7ccc4e" stroke-width="0.6" fill-rule="evenodd" d="M113.0,251.0 120.0,250.2 125.0,251.2 128.5,254.0 130.5,257.0 132.8,262.0 135.0,263.8 138.0,264.4 148.0,264.5 156.0,266.6 161.0,268.7 175.0,276.1 189.0,281.5 189.7,282.0 189.7,283.0 188.0,284.2 174.0,288.4 170.0,290.2 163.1,295.0 152.0,304.0 145.0,307.3 114.0,315.7 89.0,320.1 70.0,322.8 70.0,277.9 72.0,276.6 89.4,261.0 94.0,257.6 102.0,253.8 113.0,251.0ZM105.4,294.0 99.0,296.5 98.0,297.0 97.4,298.0 97.9,300.0 100.8,306.0 103.4,309.0 106.0,310.9 108.9,312.0 111.0,312.1 115.7,311.0 120.0,308.5 123.3,305.0 124.2,303.0 124.0,300.0 122.6,298.0 120.0,296.0 115.2,294.0 112.0,293.3 109.0,293.3 105.4,294.0ZM572.0,320.0 599.0,319.4 609.0,320.2 617.0,322.2 624.0,323.3 643.0,324.3 643.0,342.2 610.0,341.3 603.0,340.7 597.0,341.3 585.0,337.8 577.0,334.4 570.0,333.2 556.0,332.5 546.0,332.4 535.0,333.6 522.0,334.0 507.0,335.5 488.0,334.1 477.0,334.4 472.0,334.0 459.0,337.1 439.0,343.4 434.0,346.7 410.0,348.0 408.0,349.2 403.0,353.8 393.0,356.8 388.0,356.4 381.0,354.3 378.0,354.3 376.0,354.8 374.7,356.0 369.6,364.0 368.2,370.0 361.5,381.0 359.4,386.0 358.0,387.7 354.0,390.4 348.0,393.0 330.0,398.4 321.0,399.0 297.0,396.4 286.0,399.2 280.0,400.0 273.0,397.4 263.0,395.0 223.0,389.3 221.0,389.5 217.0,392.6 215.0,393.4 203.0,395.9 200.0,395.5 191.0,392.5 188.0,392.3 183.0,394.7 175.8,400.0 155.7,418.0 142.0,428.6 135.0,433.1 126.0,437.5 110.0,440.2 108.5,441.0 105.0,444.4 94.7,446.0 93.5,447.0 88.0,456.0 77.0,467.1 70.0,473.0 70.0,436.1 73.0,433.8 76.0,430.2 79.0,429.1 103.0,426.3 109.0,426.9 115.0,426.5 124.0,424.6 134.0,420.5 143.4,414.0 154.6,404.0 161.2,396.0 174.0,377.9 175.7,376.0 177.0,375.4 180.0,376.0 206.0,384.7 209.0,384.6 217.0,382.8 223.0,377.0 225.0,376.2 235.0,380.5 244.0,383.0 266.0,385.9 280.0,391.4 283.0,391.3 290.0,387.8 295.0,386.3 307.0,388.3 320.0,394.1 323.0,394.9 326.0,395.0 329.4,394.0 344.0,386.3 349.9,382.0 351.2,380.0 352.0,375.0 353.5,371.0 353.0,367.0 353.5,365.0 364.2,348.0 365.0,347.0 367.0,345.9 370.0,345.5 376.0,345.7 387.0,348.6 391.0,348.7 394.0,348.2 396.5,347.0 403.0,340.3 405.0,338.9 407.0,338.2 417.0,338.3 426.0,341.4 434.0,342.1 441.3,340.0 455.0,333.6 472.0,328.5 492.0,325.6 528.0,322.9 544.0,321.0 560.0,320.9 572.0,320.0Z"/>
<path fill="#96cc4b" stroke="#96cc4b" stroke-width="0.6" fill-rule="evenodd" d="M106.0,293.8 110.0,293.2 113.0,293.5 117.0,294.6 121.0,296.6 123.0,298.4 124.0,300.0 124.2,303.0 123.3,305.0 120.0,308.5 115.7,311.0 111.0,312.1 108.9,312.0 106.0,310.9 103.4,309.0 100.8,306.0 97.9,300.0 97.4,298.0 98.0,297.0 99.0,296.5 106.0,293.8ZM541.0,332.9 551.0,332.3 571.0,333.3 579.0,335.0 585.0,337.8 597.0,341.3 603.0,340.7 610.0,341.3 643.0,342.2 643.0,358.1 631.0,357.4 623.0,357.4 613.0,358.2 601.0,359.9 595.0,359.9 591.0,359.2 586.1,357.0 575.0,348.3 572.0,346.6 567.7,345.0 562.0,343.9 554.0,343.0 548.0,342.8 535.0,344.1 522.0,343.7 512.0,345.1 506.0,345.3 498.0,344.4 483.0,341.1 472.0,340.7 467.3,341.0 460.0,342.2 449.6,345.0 447.5,346.0 442.6,350.0 440.0,351.3 429.0,352.1 414.0,356.7 411.7,359.0 408.0,368.0 406.0,370.2 403.0,371.6 400.0,371.6 397.0,370.6 392.9,368.0 388.0,364.0 386.0,363.7 384.7,365.0 376.3,380.0 366.0,392.6 360.0,396.8 352.0,399.6 333.0,402.6 293.0,406.2 271.0,409.7 269.0,409.0 269.0,408.0 271.6,407.0 271.7,406.0 270.0,405.1 245.0,401.2 231.0,400.1 223.0,400.6 209.0,404.6 193.0,407.7 183.2,411.0 176.0,414.9 157.0,430.6 142.0,441.5 132.0,448.1 125.0,451.2 122.0,451.6 119.0,451.3 116.7,452.0 117.2,453.0 116.0,453.0 114.7,455.0 114.5,457.0 115.1,459.0 114.0,461.2 89.4,487.0 72.4,503.0 70.0,504.8 70.0,473.0 77.0,467.1 88.0,456.0 94.0,446.5 96.0,445.6 105.0,444.4 108.5,441.0 110.0,440.2 127.0,437.2 136.0,432.5 142.0,428.6 156.0,417.7 175.8,400.0 182.6,395.0 187.0,392.6 190.0,392.2 201.0,395.8 203.0,395.9 215.0,393.4 217.0,392.6 221.0,389.5 223.0,389.3 263.0,395.0 273.0,397.4 280.0,400.0 286.0,399.2 297.0,396.4 321.0,399.0 329.0,398.5 348.0,393.0 354.0,390.4 358.0,387.7 359.4,386.0 361.5,381.0 368.2,370.0 369.0,368.0 369.2,365.0 370.2,363.0 374.7,356.0 377.0,354.5 382.0,354.5 388.0,356.4 393.0,356.8 403.0,353.8 408.0,349.2 410.0,348.0 434.0,346.7 439.0,343.4 459.0,337.1 472.0,334.0 477.0,334.4 488.0,334.1 507.0,335.5 521.0,334.1 533.0,333.8 541.0,332.9ZM440.4,347.0 439.9,348.0 441.0,348.3 443.5,347.0 442.0,346.5 440.4,347.0ZM111.7,459.0 110.7,460.0 111.0,461.0 112.7,460.0 112.7,459.0 111.7,459.0Z"/>
<path fill="#b0d041" stroke="#b0d041" stroke-width="0.6" fill-rule="evenodd" d="M468.0,340.9 483.0,341.1 498.0,344.4 506.0,345.3 512.0,345.1 522.0,343.7 535.0,344.1 548.0,342.8 554.0,343.0 562.0,343.9 567.7,345.0 572.0,346.6 575.0,348.3 586.1,357.0 591.0,359.2 595.0,359.9 601.0,359.9 613.0,358.2 623.0,357.4 631.0,357.4 643.0,358.1 643.0,389.0 640.0,386.1 636.0,378.0 634.2,376.0 626.0,375.1 610.0,368.5 608.0,368.6 606.0,369.8 602.8,373.0 598.4,379.0 594.0,381.5 591.0,382.1 585.0,382.3 579.0,383.4 569.0,383.8 567.0,383.4 566.0,382.3 565.8,381.0 567.0,378.0 570.0,374.5 575.6,370.0 576.3,369.0 576.6,367.0 576.0,366.2 575.0,366.1 572.0,366.8 567.0,369.0 565.0,368.7 551.0,357.3 547.0,356.1 535.0,355.3 526.0,353.4 521.0,352.9 499.0,354.5 487.0,351.7 482.0,351.3 469.0,353.0 454.0,352.3 442.0,356.3 430.0,357.4 423.0,359.9 419.9,362.0 417.8,365.0 415.9,372.0 413.0,375.8 411.0,377.2 407.0,378.9 402.0,379.7 398.0,379.1 394.0,377.6 392.0,377.9 376.8,392.0 372.6,398.0 368.0,403.0 363.0,406.6 358.0,408.8 310.0,421.0 296.0,419.9 287.0,420.1 267.0,422.8 258.0,418.5 247.0,419.0 240.0,421.8 232.0,422.1 226.0,422.8 203.0,428.3 197.0,430.1 192.0,432.2 188.0,434.5 183.4,438.0 169.0,450.6 139.0,469.6 128.0,478.5 123.0,481.1 118.0,482.2 114.0,485.0 110.7,488.0 99.9,496.0 88.6,506.0 76.0,515.9 74.0,518.1 72.0,521.8 70.0,522.2 70.0,504.8 72.4,503.0 89.4,487.0 114.0,461.2 115.1,459.0 114.5,457.0 114.7,455.0 116.0,453.0 117.2,453.0 116.7,452.0 119.0,451.3 123.0,451.6 126.0,450.9 135.0,446.3 150.0,435.8 163.0,426.0 174.0,416.3 183.0,411.1 194.0,407.5 208.0,404.8 221.2,401.0 226.0,400.2 234.0,400.2 243.6,401.0 269.4,405.0 271.7,406.0 271.6,407.0 268.9,408.0 269.0,409.0 271.0,409.7 293.0,406.2 333.0,402.6 352.0,399.6 360.0,396.8 366.0,392.6 376.3,380.0 384.7,365.0 386.0,363.7 388.0,364.0 392.9,368.0 397.0,370.6 400.0,371.6 403.0,371.6 406.0,370.2 408.0,368.0 411.7,359.0 414.0,356.7 429.0,352.1 440.0,351.3 442.6,350.0 447.5,346.0 449.6,345.0 460.7,342.0 468.0,340.9ZM441.0,346.7 443.5,347.0 442.0,348.0 440.0,348.2 440.4,347.0 441.0,346.7ZM603.0,411.9 606.0,411.1 609.0,411.5 610.7,413.0 610.5,415.0 609.0,416.3 607.0,416.9 603.0,416.7 601.0,415.0 600.9,414.0 601.4,413.0 603.0,411.9ZM112.0,458.9 112.7,459.0 112.7,460.0 111.0,461.0 110.7,460.0 112.0,458.9Z"/>
<path fill="#cad43e" stroke="#cad43e" stroke-width="0.6" fill-rule="evenodd" d="M477.0,351.8 482.0,351.3 486.0,351.6 500.0,354.6 517.0,352.9 522.0,353.0 535.0,355.3 545.0,355.9 550.0,356.8 565.0,368.7 567.0,369.0 572.0,366.8 575.0,366.1 576.0,366.2 576.6,367.0 576.0,369.5 570.0,374.5 566.4,379.0 565.9,382.0 566.5,383.0 568.0,383.7 579.0,383.4 585.0,382.3 591.0,382.1 594.0,381.5 598.0,379.4 604.7,371.0 607.0,369.1 609.0,368.4 611.7,369.0 626.0,375.1 634.0,375.9 636.0,378.0 640.0,386.1 643.0,389.0 643.0,428.0 642.0,428.7 640.0,433.7 637.0,435.1 626.0,435.1 619.0,433.5 616.0,434.1 611.0,436.2 604.0,436.9 599.0,435.9 591.0,435.7 588.0,435.0 583.3,431.0 579.3,424.0 570.9,415.0 557.6,399.0 556.5,396.0 555.4,384.0 554.6,382.0 551.0,377.3 547.0,373.7 544.0,371.7 530.0,366.8 522.0,363.4 517.0,362.3 513.0,362.1 506.0,364.2 496.0,365.2 490.0,363.0 485.0,362.5 478.0,364.4 465.0,365.6 453.0,361.6 444.0,361.1 434.0,362.0 429.0,363.7 426.1,366.0 425.3,368.0 425.5,373.0 425.0,375.5 418.0,384.3 415.0,385.7 403.0,387.8 400.0,387.8 396.0,386.9 394.0,387.2 384.0,395.7 381.0,401.8 374.0,411.7 370.0,415.3 365.0,418.3 350.0,423.2 342.0,426.2 314.0,439.8 299.0,438.7 292.0,436.0 285.0,434.7 271.0,435.6 264.0,437.1 261.0,436.9 242.0,446.5 224.0,449.6 215.0,451.8 207.0,454.4 202.0,456.9 196.1,461.0 187.0,469.4 183.0,472.5 162.0,484.8 142.0,499.0 135.0,502.0 126.0,503.1 121.0,504.3 112.0,507.4 107.0,509.9 98.0,517.3 88.0,523.5 82.0,528.0 79.0,531.3 75.0,538.0 74.0,538.8 73.0,537.0 71.2,532.0 70.9,527.0 70.0,524.9 70.0,522.2 72.0,521.8 74.0,518.1 76.0,515.9 88.6,506.0 99.9,496.0 110.7,488.0 114.0,485.0 118.0,482.2 123.0,481.1 128.0,478.5 139.0,469.6 169.0,450.6 183.4,438.0 188.0,434.5 192.0,432.2 197.0,430.1 203.0,428.3 226.0,422.8 232.0,422.1 240.0,421.8 246.0,419.2 258.0,418.5 267.0,422.8 287.0,420.1 301.0,420.2 309.0,421.1 357.0,409.1 362.3,407.0 368.0,403.0 372.6,398.0 376.8,392.0 392.0,377.9 394.0,377.6 398.0,379.1 402.0,379.7 407.0,378.9 412.0,376.6 415.9,372.0 418.3,364.0 420.0,361.9 422.8,360.0 431.0,357.2 442.0,356.3 454.0,352.3 469.0,353.0 477.0,351.8ZM626.2,408.0 623.3,409.0 622.1,410.0 621.6,411.0 622.0,412.4 623.0,413.2 626.0,413.8 629.0,413.8 631.0,413.2 632.4,410.0 632.5,408.0 632.0,407.3 631.0,407.0 626.2,408.0ZM602.8,412.0 601.4,413.0 600.9,414.0 601.0,415.0 602.0,416.1 604.0,417.0 606.4,417.0 609.0,416.3 610.5,415.0 610.8,414.0 610.0,412.1 608.0,411.2 605.0,411.2 602.8,412.0Z"/>
<path fill="#e4d83e" stroke="#e4d83e" stroke-width="0.6" fill-rule="evenodd" d="M435.0,361.9 445.0,361.1 453.0,361.6 465.0,365.6 478.0,364.4 483.0,362.8 486.0,362.5 490.0,363.0 495.0,365.0 497.0,365.2 506.0,364.2 512.0,362.2 515.0,362.0 522.0,363.4 530.0,366.8 542.0,370.8 547.0,373.7 553.0,379.7 555.4,384.0 556.5,396.0 557.6,399.0 570.9,415.0 579.3,424.0 583.0,430.6 587.0,434.3 590.0,435.6 598.0,435.8 604.0,436.9 611.0,436.2 616.0,434.1 619.0,433.5 626.0,435.1 637.0,435.1 640.0,433.7 642.0,428.7 643.0,428.0 643.0,450.2 634.0,449.9 627.0,450.2 603.0,454.6 588.0,454.6 580.0,453.3 571.0,453.0 568.0,451.0 562.4,445.0 561.7,442.0 561.9,434.0 560.5,429.0 559.4,427.0 552.7,419.0 541.0,406.6 538.0,402.2 536.2,398.0 531.6,383.0 530.0,380.4 521.0,375.9 519.0,375.3 504.0,377.4 499.0,377.0 492.0,375.0 490.0,375.0 482.7,378.0 481.5,380.0 478.2,389.0 477.0,390.3 475.0,390.6 472.8,389.0 469.2,382.0 465.2,376.0 460.0,371.3 455.0,368.7 449.0,366.7 444.0,366.0 437.0,366.3 434.0,367.6 432.3,370.0 432.2,375.0 433.2,380.0 433.2,383.0 432.2,386.0 430.0,388.5 425.0,390.9 410.0,394.1 405.0,396.1 398.0,397.7 391.0,402.8 382.9,414.0 374.8,421.0 367.0,425.3 356.1,429.0 347.0,433.0 338.0,438.0 319.0,449.9 311.0,453.0 307.0,454.0 304.0,454.1 298.0,452.6 290.0,448.0 278.0,447.6 262.0,452.3 257.0,456.2 252.0,458.5 228.0,462.8 215.0,466.8 206.0,471.6 192.0,483.4 170.8,496.0 158.5,505.0 155.0,506.2 147.0,510.8 139.0,514.3 134.0,515.2 126.0,515.1 122.0,515.7 119.0,516.9 111.7,521.0 98.2,530.0 87.5,541.0 84.1,546.0 70.0,546.0 70.0,524.9 70.9,527.0 71.2,532.0 74.0,538.8 75.0,538.0 79.0,531.3 82.0,528.0 88.0,523.5 98.0,517.3 106.9,510.0 112.0,507.4 121.0,504.3 126.0,503.1 135.0,502.0 142.0,499.0 162.0,484.8 183.0,472.5 187.0,469.4 196.0,461.0 204.0,455.8 210.0,453.3 219.0,450.8 231.0,448.1 242.0,446.5 261.0,436.9 264.0,437.1 271.0,435.6 285.0,434.7 292.0,436.0 299.0,438.7 312.0,439.8 315.0,439.5 341.0,426.7 351.0,422.8 363.0,419.2 368.0,416.7 372.0,413.7 375.0,410.5 381.0,401.8 384.6,395.0 394.0,387.2 396.0,386.9 402.0,387.9 411.0,386.6 417.0,385.0 424.8,376.0 425.4,374.0 425.3,368.0 426.1,366.0 430.0,363.2 435.0,361.9ZM627.0,407.8 631.0,407.0 632.0,407.3 632.5,408.0 632.4,410.0 631.0,413.2 629.0,413.8 626.0,413.8 623.0,413.2 622.0,412.4 621.6,411.0 622.1,410.0 624.0,408.7 627.0,407.8ZM478.0,495.7 481.0,495.9 490.0,498.2 492.0,500.0 497.0,506.4 499.0,507.2 505.0,507.8 507.0,507.4 523.0,499.6 526.0,499.0 531.0,499.2 543.0,495.4 545.0,495.4 546.3,498.0 548.7,514.0 551.0,516.0 555.0,518.0 555.6,519.0 554.0,525.0 553.0,526.6 548.8,530.0 546.2,537.0 544.5,540.0 542.3,542.0 539.0,543.5 531.0,544.5 515.0,544.6 499.0,544.2 490.8,543.0 489.1,542.0 485.0,537.8 474.1,533.0 472.9,532.0 472.5,531.0 473.9,521.0 467.9,512.0 467.2,510.0 467.9,508.0 469.8,505.0 477.0,496.4 478.0,495.7Z"/>
<path fill="#fcda3a" stroke="#fcda3a" stroke-width="0.6" fill-rule="evenodd" d="M440.0,366.0 445.0,366.0 450.0,366.9 456.0,369.2 461.0,372.0 466.0,377.0 472.8,389.0 475.0,390.6 477.0,390.3 478.2,389.0 481.5,380.0 482.7,378.0 490.0,375.0 492.0,375.0 499.0,377.0 504.0,377.4 519.0,375.3 529.0,379.8 531.2,382.0 536.6,399.0 539.0,403.9 542.0,407.8 557.1,424.0 560.0,428.0 561.9,434.0 562.0,444.0 564.0,447.0 569.0,451.9 572.0,453.1 580.0,453.3 587.0,454.6 603.0,454.6 627.0,450.2 634.0,449.9 643.0,450.2 643.0,466.6 636.0,466.9 629.8,468.0 622.0,470.4 615.0,473.7 610.0,476.6 600.0,483.6 591.0,490.9 584.0,497.4 579.9,502.0 576.5,507.0 569.8,520.0 566.8,530.0 564.1,546.0 430.7,546.0 431.5,540.0 434.1,527.0 436.7,519.0 439.4,513.0 444.8,505.0 455.0,493.7 460.2,487.0 467.5,476.0 473.9,465.0 474.0,463.6 473.0,462.9 471.0,463.6 468.0,466.2 467.3,466.0 464.8,463.0 464.1,461.0 466.0,460.0 470.0,459.8 490.0,463.3 495.0,463.7 503.0,462.7 511.0,460.2 516.0,457.8 520.0,455.1 527.0,448.5 531.5,442.0 535.5,433.0 537.2,431.0 537.5,430.0 536.6,426.0 530.6,415.0 527.5,406.0 525.6,402.0 521.9,397.0 517.0,393.0 510.0,389.8 500.0,387.2 495.0,386.6 491.0,387.1 487.0,388.9 484.7,391.0 483.1,394.0 480.9,401.0 479.2,403.0 478.0,403.4 476.9,403.0 475.0,400.8 467.0,384.3 464.0,379.9 461.0,376.8 457.2,374.0 452.0,371.7 445.0,370.4 440.0,370.5 438.7,371.0 440.6,374.0 439.2,386.0 438.0,387.7 431.0,394.2 428.0,396.1 416.0,401.2 408.0,407.8 403.0,408.9 401.0,409.9 398.0,412.0 394.2,416.0 391.0,420.3 389.0,421.7 361.0,432.4 352.0,437.3 343.0,443.6 332.0,452.3 323.0,457.9 307.0,464.7 303.0,464.9 287.0,462.1 282.0,462.1 270.0,465.2 264.0,468.0 245.0,470.0 232.0,473.2 220.0,478.2 213.2,482.0 200.0,491.4 178.0,506.0 167.0,514.2 165.0,514.2 160.0,513.1 142.0,523.2 132.0,524.0 126.0,526.9 116.0,533.6 105.8,544.0 105.2,546.0 84.1,546.0 87.5,541.0 98.2,530.0 111.7,521.0 119.0,516.9 122.0,515.7 126.0,515.1 134.0,515.2 139.0,514.3 147.0,510.8 155.0,506.2 158.5,505.0 170.8,496.0 192.0,483.4 206.0,471.6 215.0,466.8 228.0,462.8 252.0,458.5 257.0,456.2 262.0,452.3 278.0,447.6 290.0,448.0 298.0,452.6 304.0,454.1 307.0,454.0 311.0,453.0 320.0,449.4 338.0,438.0 347.0,433.0 356.1,429.0 367.0,425.3 374.8,421.0 382.9,414.0 391.0,402.8 398.0,397.7 405.0,396.1 410.0,394.1 425.0,390.9 430.0,388.5 432.2,386.0 433.2,383.0 433.2,380.0 432.2,375.0 432.3,370.0 433.6,368.0 435.0,366.9 440.0,366.0ZM477.5,496.0 469.1,506.0 467.2,510.0 467.9,512.0 473.9,521.0 472.5,531.0 472.9,532.0 474.1,533.0 485.0,537.8 489.1,542.0 490.8,543.0 499.0,544.2 515.0,544.6 531.0,544.5 539.0,543.5 542.3,542.0 544.5,540.0 546.2,537.0 548.8,530.0 553.0,526.6 554.0,525.0 555.6,519.0 555.0,518.0 551.0,516.0 548.7,514.0 546.3,498.0 545.0,495.4 543.0,495.4 531.0,499.2 526.0,499.0 523.0,499.6 507.0,507.4 505.0,507.8 499.0,507.2 497.0,506.4 492.0,500.0 490.0,498.2 480.0,495.7 477.5,496.0Z"/>
<path fill="#febc34" stroke="#febc34" stroke-width="0.6" fill-rule="evenodd" d="M439.0,370.8 443.0,370.3 449.4,371.0 455.3,373.0 460.1,376.0 463.0,378.7 466.0,382.7 475.0,400.8 476.9,403.0 478.0,403.4 479.2,403.0 480.9,401.0 483.1,394.0 484.7,391.0 487.0,388.9 491.0,387.1 495.0,386.6 500.0,387.2 510.0,389.8 517.0,393.0 521.9,397.0 525.6,402.0 527.5,406.0 530.6,415.0 536.6,426.0 537.5,430.0 537.2,431.0 535.5,433.0 531.5,442.0 527.0,448.5 520.0,455.1 516.0,457.8 511.0,460.2 503.0,462.7 495.0,463.7 490.0,463.3 470.0,459.8 466.0,460.0 464.1,461.0 464.8,463.0 467.3,466.0 468.0,466.2 471.0,463.6 473.0,462.9 474.0,463.6 473.9,465.0 467.5,476.0 460.2,487.0 455.0,493.7 444.8,505.0 439.4,513.0 436.7,519.0 434.1,527.0 431.5,540.0 430.7,546.0 391.8,546.0 397.8,526.0 398.6,520.0 398.2,511.0 399.7,506.0 403.0,501.1 413.0,490.0 419.3,481.0 429.1,465.0 432.2,457.0 432.0,453.0 430.5,449.0 428.0,445.0 425.0,442.3 421.0,441.1 411.0,440.7 405.0,439.2 401.0,440.4 399.0,440.5 397.7,440.0 397.0,439.1 397.2,438.0 398.0,437.0 403.0,432.4 411.0,427.2 413.1,425.0 413.2,423.0 412.0,421.3 410.0,420.0 408.0,419.6 406.0,419.8 403.4,421.0 397.0,427.9 393.0,430.9 391.0,431.4 384.0,431.3 378.4,432.0 370.2,434.0 363.4,437.0 354.7,443.0 340.0,456.4 333.0,461.9 327.6,465.0 318.0,469.3 309.0,474.0 304.0,474.8 296.0,473.9 290.0,474.2 277.0,477.0 270.0,479.2 258.0,478.6 248.0,479.0 241.0,480.6 235.0,483.0 224.0,488.8 206.0,499.6 182.8,516.0 173.0,522.0 171.0,521.9 166.0,519.9 164.0,520.4 147.0,531.3 145.0,532.1 141.0,532.6 138.3,534.0 135.0,536.2 128.3,542.0 128.2,543.0 130.0,543.7 143.1,546.0 105.2,546.0 105.8,544.0 116.0,533.6 125.8,527.0 132.0,524.0 142.0,523.2 160.0,513.1 165.0,514.2 167.0,514.2 178.0,506.0 200.0,491.4 211.6,483.0 219.0,478.7 228.0,474.8 232.0,473.2 242.0,470.5 264.0,468.0 270.0,465.2 282.0,462.1 287.0,462.1 303.0,464.9 307.0,464.7 324.0,457.4 332.0,452.3 343.0,443.6 352.0,437.3 361.0,432.4 389.0,421.7 391.0,420.3 394.2,416.0 398.0,412.0 401.0,409.9 403.0,408.9 408.0,407.8 416.0,401.2 428.0,396.1 431.0,394.2 438.0,387.7 439.2,386.0 440.6,375.0 440.3,373.0 439.0,371.5 439.0,370.8ZM447.1,391.0 443.0,391.8 440.0,393.1 432.0,400.6 424.5,405.0 423.3,407.0 423.3,409.0 423.8,410.0 427.0,412.3 435.0,412.3 439.0,412.8 461.0,419.5 465.0,419.3 467.7,418.0 468.8,416.0 468.0,411.0 465.0,403.6 460.6,396.0 458.0,393.3 455.5,392.0 451.0,391.0 447.1,391.0ZM499.1,401.0 495.0,402.5 492.0,406.0 490.4,411.0 489.7,418.0 491.5,426.0 494.4,432.0 496.9,435.0 499.0,436.6 501.0,437.4 503.0,437.5 506.0,436.5 508.0,435.0 510.0,432.3 511.6,429.0 513.7,420.0 513.8,410.0 512.6,405.0 511.2,403.0 510.0,402.2 505.0,401.0 499.1,401.0ZM636.0,466.9 643.0,466.6 643.0,496.9 627.0,496.3 622.0,495.3 616.0,493.2 614.0,493.1 611.4,494.0 608.7,496.0 601.0,505.2 598.0,507.8 596.0,508.1 591.0,506.7 588.0,507.8 587.0,509.0 586.5,511.0 586.4,519.0 585.1,528.0 580.5,546.0 564.1,546.0 566.8,530.0 569.4,521.0 575.8,508.0 582.5,499.0 589.0,492.6 596.0,486.7 612.0,475.4 623.1,470.0 630.0,468.0 636.0,466.9ZM159.0,545.2 159.7,546.0 158.5,546.0 159.0,545.2Z"/>
<path fill="#fea430" stroke="#fea430" stroke-width="0.6" fill-rule="evenodd" d="M448.0,390.9 452.0,391.2 456.0,392.2 458.8,394.0 461.0,396.6 465.0,403.6 468.0,411.1 468.8,416.0 468.0,417.7 467.0,418.6 464.0,419.5 461.0,419.5 439.0,412.8 435.0,412.3 427.0,412.3 423.8,410.0 423.3,409.0 423.3,407.0 425.0,404.6 432.0,400.6 440.1,393.0 444.0,391.6 448.0,390.9ZM500.0,400.9 507.0,401.3 511.0,402.8 513.0,406.0 513.9,411.0 513.6,421.0 511.2,430.0 508.0,435.0 506.0,436.5 503.0,437.5 500.0,437.1 498.1,436.0 494.0,431.4 491.5,426.0 489.6,417.0 490.8,409.0 492.6,405.0 495.8,402.0 500.0,400.9ZM406.0,419.8 409.0,419.7 411.7,421.0 413.2,423.0 413.1,425.0 411.0,427.2 403.0,432.4 398.0,437.0 397.2,438.0 397.0,439.1 397.7,440.0 399.0,440.5 401.0,440.4 405.0,439.2 411.0,440.7 421.0,441.1 425.0,442.3 428.0,445.0 430.5,449.0 432.0,453.0 432.2,457.0 429.1,465.0 419.3,481.0 413.0,490.0 403.0,501.1 399.7,506.0 398.2,511.0 398.6,520.0 397.8,526.0 391.8,546.0 383.3,546.0 381.9,508.0 381.1,503.0 379.9,500.0 377.0,497.1 364.0,490.1 361.0,487.5 358.4,483.0 356.8,476.0 354.7,473.0 352.0,471.7 345.0,471.1 336.0,471.6 329.0,473.0 305.0,483.3 295.0,486.3 285.0,488.6 273.0,490.6 257.0,488.6 250.0,488.7 239.0,491.0 230.2,494.0 222.0,498.0 201.0,510.6 186.9,518.0 175.3,525.0 174.3,526.0 173.0,530.2 167.0,534.9 164.0,538.2 163.0,538.6 162.0,538.1 159.0,533.5 156.0,535.2 150.9,540.0 152.0,540.3 154.0,539.3 155.0,539.3 159.0,541.4 160.0,541.5 163.0,540.7 164.0,540.9 167.5,544.0 167.7,546.0 159.7,546.0 159.0,545.2 158.5,546.0 143.1,546.0 131.3,544.0 128.2,543.0 128.3,542.0 138.0,534.2 141.0,532.6 145.0,532.1 147.0,531.3 164.0,520.4 165.0,519.9 167.0,520.1 172.0,522.1 174.0,521.4 182.8,516.0 206.0,499.6 224.0,488.8 236.0,482.5 242.0,480.3 248.0,479.0 258.0,478.6 270.0,479.2 277.0,477.0 290.0,474.2 296.0,473.9 304.0,474.8 309.0,474.0 318.0,469.3 327.6,465.0 333.0,461.9 340.0,456.4 354.7,443.0 363.4,437.0 370.2,434.0 378.4,432.0 384.0,431.3 391.0,431.4 393.0,430.9 397.0,427.9 402.2,422.0 406.0,419.8ZM612.0,493.7 614.0,493.1 616.0,493.2 622.0,495.3 628.0,496.4 643.0,496.9 643.0,506.8 636.0,508.6 628.9,512.0 626.8,514.0 624.5,519.0 623.0,520.3 622.0,520.4 620.0,519.5 615.4,515.0 612.0,513.1 608.0,512.4 606.0,512.7 604.0,513.6 602.6,515.0 601.6,517.0 600.1,524.0 599.5,532.0 599.5,546.0 580.5,546.0 585.5,526.0 586.5,518.0 586.5,511.0 587.0,509.0 588.0,507.8 590.0,506.8 592.0,506.7 596.0,508.1 599.0,507.2 607.7,497.0 612.0,493.7Z"/>
<path fill="#ff8a2c" stroke="#ff8a2c" stroke-width="0.6" fill-rule="evenodd" d="M334.0,471.9 347.0,471.2 352.0,471.7 354.0,472.5 356.4,475.0 358.4,483.0 361.0,487.5 364.0,490.1 377.0,497.1 379.9,500.0 381.1,503.0 381.9,508.0 383.3,546.0 279.6,546.0 277.0,542.3 273.0,539.4 269.0,537.9 249.0,532.5 245.9,531.0 241.0,527.4 239.0,526.7 237.0,526.8 231.0,529.5 227.0,530.3 211.0,528.6 204.0,528.9 178.0,534.2 171.5,536.0 168.0,537.7 168.0,539.2 173.2,543.0 175.8,546.0 167.7,546.0 167.5,544.0 166.8,543.0 164.0,540.9 163.0,540.7 160.0,541.5 155.0,539.3 154.0,539.3 152.0,540.3 150.9,540.0 156.0,535.2 159.0,533.5 162.0,538.1 163.0,538.6 164.0,538.2 167.0,534.9 173.0,530.2 174.3,526.0 178.3,523.0 201.0,510.6 222.0,498.0 232.8,493.0 242.9,490.0 251.0,488.6 257.0,488.6 273.0,490.6 286.0,488.4 295.0,486.3 304.0,483.6 312.0,480.5 326.1,474.0 334.0,471.9ZM358.1,520.0 354.0,521.7 350.2,525.0 350.1,527.0 352.0,529.7 354.0,531.5 357.1,533.0 368.0,535.9 371.0,535.2 372.0,533.7 372.0,531.0 370.8,528.0 368.1,524.0 366.0,521.9 363.0,520.2 361.0,519.7 358.1,520.0ZM642.0,506.9 643.0,506.8 643.0,546.0 599.5,546.0 600.0,524.8 601.3,518.0 602.0,516.0 603.5,514.0 605.0,513.0 607.0,512.5 611.8,513.0 615.4,515.0 620.0,519.5 622.0,520.4 623.0,520.3 624.5,519.0 626.8,514.0 628.9,512.0 636.0,508.6 642.0,506.9Z"/>
<path fill="#ff7228" stroke="#ff7228" stroke-width="0.6" fill-rule="evenodd" d="M359.0,519.8 362.0,519.9 364.0,520.6 366.1,522.0 368.9,525.0 371.0,528.3 372.0,531.0 372.0,533.7 371.0,535.2 368.0,535.9 357.1,533.0 354.0,531.5 351.5,529.0 350.1,527.0 350.2,525.0 354.0,521.7 359.0,519.8ZM237.0,526.8 240.2,527.0 246.0,531.1 250.3,533.0 272.0,538.9 276.7,542.0 278.6,544.0 279.6,546.0 175.8,546.0 173.2,543.0 167.8,539.0 167.8,538.0 168.9,537.0 174.8,535.0 203.0,529.1 211.0,528.6 227.0,530.3 231.0,529.5 237.0,526.8Z"/>
</g>
<path fill="none" stroke="#b4aea4" stroke-width="1.1" stroke-dasharray="3.6 2.2" d="M70.0,89.1 92.0,81.6 98.0,80.2 107.0,80.2 119.0,82.3 125.0,81.9 145.0,76.0 159.6,71.0"/>
<path fill="none" stroke="#b4aea4" stroke-width="1.1" stroke-dasharray="3.6 2.2" d="M458.9,71.0 460.5,73.0 459.0,76.5 457.0,79.1 451.0,84.5 446.8,89.0 440.5,99.0 439.7,101.0 439.7,103.0 440.3,104.0 441.9,105.0 445.0,105.6 449.0,105.5 455.0,104.8 462.0,103.2 470.0,101.0 483.0,96.6 499.0,90.4 506.0,88.6 522.0,86.7 553.0,84.7 571.0,84.7 595.0,86.7 620.2,90.0 643.0,94.6M70.0,161.8 79.0,161.0 86.0,159.4 93.0,156.2 100.2,152.0 101.6,150.0 101.7,148.0 97.9,139.0 97.9,137.0 99.0,135.5 102.0,134.3 114.0,131.4 120.0,129.4 143.0,119.3 146.0,118.9 149.0,119.2 160.0,123.2 184.5,130.0 198.1,133.0 204.0,134.0 207.0,133.9 210.0,132.5 214.0,128.0 218.0,124.6 221.0,122.8 224.0,121.7 229.0,121.7 241.0,124.5 246.0,124.4 272.0,115.9 286.0,115.1 299.0,113.4 324.0,107.9 352.8,103.0 371.7,99.0 378.5,97.0 385.8,94.0 414.0,77.6 428.2,71.0"/>
<path fill="none" stroke="#a8a8a8" stroke-width="1.25" d="M70.0,186.0 94.0,183.2 106.0,181.0 111.0,180.6 137.0,182.9 157.0,185.2 163.0,186.4 173.0,189.6 183.0,194.6 191.0,199.7 210.1,213.0 229.4,225.0 232.0,226.4 236.0,227.1 243.3,226.0 254.3,223.0 260.0,221.1 262.8,219.0 264.0,217.0 263.9,214.0 255.7,191.0 255.0,186.0 255.9,184.0 257.0,183.3 260.0,182.8 266.0,184.8 270.8,188.0 273.3,191.0 282.0,204.0 284.0,208.0 284.0,210.3 281.6,213.0 281.1,214.0 281.4,215.0 288.0,221.8 291.2,228.0 292.9,235.0 294.9,252.0 295.9,255.0 298.4,259.0 298.8,261.0 298.7,263.0 296.3,269.0 292.8,274.0 285.5,282.0 271.0,296.6 269.0,297.9 262.0,300.5 247.3,313.0 243.0,317.5 230.5,325.0 225.6,330.0 224.6,333.0 225.0,336.0 227.0,340.2 231.0,346.0 234.4,350.0 238.0,353.1 241.0,354.6 246.0,355.7 253.0,356.2 260.0,356.1 266.0,355.2 272.0,353.6 273.3,353.0 273.4,352.0 272.4,350.0 272.8,348.0 275.2,345.0 277.0,343.9 279.0,344.7 282.9,349.0 283.1,351.0 282.0,354.0 282.1,355.0 283.0,355.9 285.0,355.9 290.0,354.9 292.0,355.6 296.7,359.0 298.8,360.0 303.0,360.9 306.0,360.8 321.1,356.0 322.1,355.0 322.3,354.0 321.4,351.0 323.0,349.5 325.0,349.3 326.5,350.0 327.3,351.0 327.4,357.0 328.1,359.0 330.5,361.0 333.0,361.4 334.0,361.0 335.0,359.2 334.9,353.0 335.7,351.0 337.0,349.7 343.0,346.2 347.0,343.0 351.0,338.6 355.1,333.0 364.0,324.7 370.0,322.8 378.0,321.2 381.0,320.2 388.0,319.4 391.9,318.0 396.0,317.5 402.0,317.9 426.0,322.6 435.0,323.1 439.0,322.4 441.8,321.0 444.3,319.0 453.0,309.1 462.8,301.0 470.4,294.0 471.9,292.0 472.1,288.0 472.6,287.0 474.8,286.0 499.0,279.9 515.0,277.1 517.0,276.0 518.0,273.8 519.0,272.9 525.0,272.4 532.0,270.2 538.0,269.9 549.0,266.7 553.0,266.6 555.0,266.9 556.0,267.8 557.3,270.0 559.0,271.3 562.0,272.4 565.0,272.7 571.0,271.8 580.0,268.4 586.0,267.1 591.0,266.9 602.0,267.8 609.0,267.2 613.0,266.0 620.0,262.4 624.0,261.4 628.0,261.6 630.2,263.0 630.9,265.0 630.1,269.0 631.0,270.0 643.0,264.8M399.0,96.9 404.0,96.6 410.0,96.9 417.0,98.1 418.3,100.0 417.8,105.0 418.4,109.0 421.6,117.0 425.3,123.0 427.0,124.1 430.0,124.7 433.0,124.4 439.0,122.6 457.1,115.0 467.4,112.0 470.0,111.6 474.0,112.4 491.4,108.0 509.0,104.9 538.0,102.6 575.0,101.5 596.0,99.2 602.5,100.0 606.0,101.5 607.3,103.0 607.0,104.5 605.0,106.2 597.0,110.2 591.0,112.5 576.8,116.0 560.0,119.0 556.0,120.8 552.0,124.0 549.0,125.3 547.0,125.4 541.0,124.2 538.0,124.8 535.0,126.7 522.5,137.0 509.0,143.6 505.0,146.2 503.2,149.0 503.4,154.0 502.8,156.0 501.3,158.0 498.8,160.0 495.0,162.0 491.0,163.2 472.0,166.5 468.0,169.0 466.9,171.0 467.5,173.0 473.0,177.4 474.8,180.0 474.0,182.4 469.0,185.9 468.1,187.0 468.1,188.0 468.8,189.0 471.0,190.4 480.0,194.5 489.6,200.0 497.0,202.9 498.3,204.0 498.8,206.0 498.0,208.0 497.0,209.3 495.0,210.8 492.0,211.9 489.0,211.9 485.0,209.1 483.0,209.8 479.0,216.0 475.2,220.0 468.0,225.5 462.0,228.0 461.2,229.0 462.0,229.7 463.0,229.3 467.0,226.5 467.4,227.0 467.2,228.0 459.1,235.0 454.0,238.3 448.0,241.3 442.0,242.6 435.0,242.2 420.0,239.2 413.0,238.7 396.0,240.3 378.0,243.3 374.0,245.1 372.0,247.0 370.8,249.0 368.9,256.0 368.7,264.0 367.7,266.0 365.0,268.1 350.6,273.0 345.0,273.9 326.0,272.3 318.0,269.9 314.0,267.6 311.4,265.0 310.4,262.0 310.8,260.0 311.5,259.0 314.6,257.0 326.0,252.6 331.6,249.0 336.5,244.0 344.0,234.5 347.1,232.0 349.4,228.0 355.6,223.0 356.3,221.0 355.5,217.0 353.0,213.3 334.0,197.3 329.9,193.0 326.0,187.1 313.0,153.9 311.7,148.0 312.0,145.5 312.9,143.0 314.9,140.0 317.8,137.0 327.1,131.0 339.9,125.0 373.0,111.6 388.1,101.0 394.5,98.0 399.0,96.9M378.0,141.9 375.0,143.0 371.0,145.5 359.7,155.0 356.0,157.4 353.0,158.4 343.0,160.5 335.0,163.0 333.9,166.0 333.3,175.0 334.4,180.0 337.0,184.8 343.0,191.3 347.0,194.1 351.0,196.2 356.0,197.6 367.0,198.7 376.0,202.2 383.0,204.0 394.0,205.3 404.0,205.3 412.0,203.5 418.0,200.5 421.0,198.0 430.7,185.0 438.0,178.2 438.6,177.0 438.3,175.0 436.0,173.1 426.4,168.0 416.0,159.7 410.0,155.8 384.0,142.5 381.0,141.7 378.0,141.9M179.0,144.9 187.0,144.3 196.0,145.4 201.1,147.0 209.0,150.7 214.0,151.5 215.1,152.0 215.3,154.0 214.4,156.0 213.0,157.2 212.0,157.2 209.0,155.9 207.0,156.2 201.0,160.5 195.0,163.1 188.0,164.5 182.0,164.3 179.0,163.2 175.0,160.3 173.0,158.0 170.3,153.0 171.0,150.1 172.6,148.0 176.0,145.9 179.0,144.9M161.0,167.0 170.0,166.3 176.0,166.5 182.0,167.2 187.0,168.9 191.0,171.6 193.0,174.6 193.5,178.0 192.5,182.0 191.0,184.1 190.0,184.7 188.0,184.8 181.0,182.0 172.0,179.7 168.0,177.2 158.7,169.0 158.2,168.0 161.0,167.0M486.0,215.8 490.0,215.0 493.0,215.4 496.0,216.9 496.9,219.0 496.5,220.0 495.4,221.0 493.0,221.7 489.0,221.8 485.1,221.0 482.9,220.0 482.1,219.0 482.0,218.0 483.0,216.9 486.0,215.8"/>
<path fill="none" stroke="#a8a8a8" stroke-width="1.25" d="M70.0,209.5 80.0,204.6 85.0,203.3 87.0,203.3 89.0,204.1 90.1,205.0 90.9,207.0 90.9,209.0 90.0,212.0 87.1,216.0 70.0,227.9M70.0,272.8 79.0,266.4 82.0,262.8 91.6,254.0 100.0,248.4 123.0,239.1 143.0,229.9 147.0,228.5 151.0,227.9 155.0,228.5 161.0,231.0 188.6,247.0 196.0,253.4 199.7,258.0 202.8,263.0 204.0,264.1 207.0,264.9 221.0,265.8 227.0,267.1 230.0,268.4 232.0,269.9 233.2,272.0 233.4,274.0 232.7,277.0 231.0,279.6 228.5,282.0 225.5,284.0 201.0,295.4 191.4,299.0 136.0,315.7 109.0,324.6 99.0,325.8 83.0,325.6 70.0,327.7M70.0,422.9 81.9,414.0 86.0,411.9 89.0,411.2 92.0,411.5 95.0,413.0 97.1,415.0 99.0,418.0 101.4,420.0 104.0,421.0 108.0,421.7 114.0,421.5 121.0,420.0 128.0,417.9 134.0,415.1 138.6,412.0 144.6,407.0 150.0,401.9 154.0,397.3 158.0,391.5 173.0,365.9 176.0,361.6 178.8,359.0 182.0,356.9 186.4,355.0 190.3,354.0 203.0,353.1 207.0,353.3 210.8,354.0 200.0,354.7 191.0,356.5 188.0,358.2 180.1,365.0 178.4,367.0 178.3,368.0 179.1,369.0 181.2,370.0 207.0,378.8 210.0,379.2 217.0,378.0 219.0,376.5 223.0,371.9 224.0,371.3 225.0,371.4 234.0,375.7 242.0,378.5 250.0,380.2 270.0,382.7 278.0,386.9 281.0,387.7 283.0,387.2 292.0,382.5 298.0,377.9 300.0,377.6 306.0,379.5 308.0,379.0 309.0,378.1 310.5,384.0 313.0,387.4 322.0,392.0 326.0,392.5 328.0,391.8 334.0,387.9 343.0,382.9 345.5,381.0 347.0,379.0 347.9,376.0 347.9,373.0 344.8,356.0 346.2,352.0 350.1,348.0 357.8,344.0 371.0,340.3 373.0,340.5 377.0,342.2 386.0,344.8 389.0,345.2 392.0,344.8 394.0,343.6 401.0,336.5 410.0,329.9 413.0,330.3 421.0,335.9 425.0,338.0 429.0,339.2 434.0,339.6 440.0,338.5 452.0,332.1 468.0,326.6 492.0,321.7 499.0,320.7 521.0,319.0 545.0,316.1 560.0,316.1 572.0,314.7 583.0,314.2 597.2,311.0 604.0,310.1 608.0,310.8 615.0,314.1 622.0,316.0 631.0,317.0 643.0,317.4M102.0,204.5 103.0,204.2 111.0,206.8 122.1,208.0 124.7,209.0 124.0,210.0 121.9,211.0 115.0,213.3 110.0,214.4 106.0,214.3 103.0,213.1 101.6,211.0 101.1,207.0 102.0,204.5M311.0,371.9 311.6,373.0 310.0,375.5 309.6,373.0 310.0,372.1 311.0,371.9"/>
<path fill="none" stroke="#a8a8a8" stroke-width="1.25" d="M70.0,504.8 72.4,503.0 89.4,487.0 114.0,461.2 115.1,459.0 114.5,457.0 114.7,455.0 116.0,453.0 117.2,453.0 116.7,452.0 119.0,451.3 122.0,451.6 125.0,451.2 132.0,448.1 142.0,441.5 157.0,430.6 176.0,414.9 183.2,411.0 193.0,407.7 209.0,404.6 223.0,400.6 231.0,400.1 245.0,401.2 270.0,405.1 271.7,406.0 271.6,407.0 269.0,408.0 269.0,409.0 271.0,409.7 293.0,406.2 333.0,402.6 352.0,399.6 360.0,396.8 366.0,392.6 376.3,380.0 384.7,365.0 386.0,363.7 388.0,364.0 392.9,368.0 397.0,370.6 400.0,371.6 403.0,371.6 406.0,370.2 408.0,368.0 411.7,359.0 414.0,356.7 429.0,352.1 440.0,351.3 442.6,350.0 447.5,346.0 449.6,345.0 460.0,342.2 467.3,341.0 472.0,340.7 483.0,341.1 498.0,344.4 506.0,345.3 512.0,345.1 522.0,343.7 535.0,344.1 548.0,342.8 554.0,343.0 562.0,343.9 567.7,345.0 572.0,346.6 575.0,348.3 586.1,357.0 591.0,359.2 595.0,359.9 601.0,359.9 613.0,358.2 623.0,357.4 631.0,357.4 643.0,358.1M441.0,346.7 443.5,347.0 442.0,348.0 440.0,348.2 440.4,347.0 441.0,346.7M112.0,458.9 112.7,459.0 112.7,460.0 111.0,461.0 110.7,460.0 112.0,458.9"/>
<path fill="none" stroke="#a8a8a8" stroke-width="1.25" d="M76.2,546.0 81.0,537.0 84.5,533.0 91.0,528.0 101.2,522.0 109.0,515.7 113.0,513.7 118.0,512.0 123.0,511.2 135.0,511.0 140.0,509.6 146.0,507.0 154.1,502.0 168.0,491.8 188.0,480.5 192.6,477.0 201.0,468.9 206.0,465.5 212.0,462.5 218.0,460.5 226.0,458.5 250.0,454.3 253.0,452.6 258.0,447.6 262.4,444.0 266.0,442.1 269.0,441.4 271.0,441.5 273.0,442.4 281.0,440.5 286.0,440.6 292.0,442.8 299.0,447.7 301.7,449.0 306.0,449.6 309.9,449.0 318.0,446.0 337.0,434.6 345.0,430.5 352.0,427.5 363.3,424.0 367.9,422.0 372.5,419.0 376.8,415.0 385.7,402.0 388.0,397.1 395.0,391.9 396.0,391.6 400.0,391.9 417.0,389.3 425.0,387.6 428.6,386.0 429.4,385.0 430.0,383.0 429.0,370.0 429.2,368.0 431.0,366.0 436.0,364.3 443.0,363.7 448.0,364.2 453.0,365.6 460.0,368.9 464.0,371.6 466.3,374.0 468.5,377.0 473.9,387.0 475.0,387.3 476.0,385.2 477.4,377.0 478.4,374.0 480.8,370.0 484.0,367.7 486.0,367.2 489.0,367.5 498.0,371.9 502.0,372.6 506.0,371.4 510.8,367.0 513.0,366.1 516.0,366.3 520.0,367.4 539.2,376.0 545.0,379.7 550.0,384.0 550.8,386.0 550.5,387.0 548.0,389.3 545.0,390.4 544.0,391.3 541.7,396.0 542.0,398.4 544.0,400.9 557.0,411.6 569.0,424.4 573.0,431.0 573.3,432.0 573.0,435.2 575.0,437.9 575.8,441.0 578.0,442.9 584.0,445.0 595.0,445.7 606.0,445.2 626.0,442.5 643.0,443.1M527.0,512.8 520.1,515.0 515.0,518.0 511.5,521.0 508.9,525.0 507.3,531.0 507.8,533.0 512.0,538.0 516.0,540.6 519.0,541.3 523.0,541.5 527.0,541.1 530.6,540.0 534.0,538.2 536.6,536.0 538.2,534.0 540.0,530.6 541.0,527.0 541.1,524.0 540.1,520.0 538.4,517.0 536.0,514.6 533.0,513.0 530.0,512.6 527.0,512.8"/>
<path fill="none" stroke="#a8a8a8" stroke-width="1.25" d="M143.1,546.0 130.0,543.7 128.2,543.0 128.3,542.0 135.0,536.2 138.3,534.0 141.0,532.6 145.0,532.1 147.0,531.3 164.0,520.4 166.0,519.9 171.0,521.9 173.0,522.0 182.8,516.0 206.0,499.6 224.0,488.8 235.0,483.0 241.0,480.6 248.0,479.0 258.0,478.6 270.0,479.2 277.0,477.0 290.0,474.2 296.0,473.9 304.0,474.8 309.0,474.0 318.0,469.3 327.6,465.0 333.0,461.9 340.0,456.4 354.7,443.0 363.4,437.0 370.2,434.0 378.4,432.0 384.0,431.3 391.0,431.4 393.0,430.9 397.0,427.9 403.4,421.0 406.0,419.8 409.0,419.7 411.0,420.5 412.7,422.0 413.2,423.0 413.1,425.0 411.0,427.2 403.0,432.4 398.0,437.0 397.2,438.0 397.0,439.1 397.7,440.0 399.0,440.5 401.0,440.4 405.0,439.2 411.0,440.7 421.0,441.1 425.0,442.3 428.0,445.0 430.5,449.0 432.0,453.0 432.2,457.0 429.1,465.0 419.3,481.0 413.0,490.0 403.0,501.1 399.7,506.0 398.2,511.0 398.6,520.0 397.8,526.0 391.8,546.0M580.5,546.0 585.1,528.0 586.4,519.0 586.5,511.0 587.0,509.0 588.0,507.8 591.0,506.7 596.0,508.1 598.0,507.8 601.0,505.2 608.7,496.0 611.4,494.0 614.0,493.1 616.0,493.2 622.0,495.3 627.0,496.3 643.0,496.9M448.0,390.9 452.0,391.2 456.0,392.2 458.8,394.0 461.0,396.6 465.0,403.6 468.0,411.1 468.8,416.0 468.0,417.7 467.0,418.6 464.0,419.5 461.0,419.5 439.0,412.8 435.0,412.3 427.0,412.3 423.8,410.0 423.3,409.0 423.3,407.0 425.0,404.6 432.0,400.6 440.1,393.0 444.0,391.6 448.0,390.9M500.0,400.9 507.0,401.3 511.0,402.8 513.0,406.0 513.9,411.0 513.6,421.0 511.2,430.0 508.0,435.0 506.0,436.5 503.0,437.5 500.0,437.1 498.1,436.0 494.0,431.4 491.5,426.0 489.6,417.0 490.8,409.0 492.6,405.0 495.8,402.0 500.0,400.9"/>
<text x="91" y="104.6" style="font-family:&quot;Liberation Serif&quot;,serif;font-weight:bold" font-size="28" fill="#08748e" stroke="#08748e" stroke-width="0.9" fill-opacity="0.92" stroke-opacity="0.92" textLength="83" lengthAdjust="spacingAndGlyphs">ara.cat</text>
<path fill="none" stroke="#141414" stroke-width="1.5" stroke-linejoin="round" stroke-linecap="round" d="M77.5,119.7 79.0,117.6 80.6,116.0 83.4,114.2 85.9,113.0 89.4,111.7 91.8,111.4 94.7,111.6 96.6,112.1 98.7,113.1 100.2,114.2 101.8,116.0 102.9,117.7 104.1,120.1 105.2,120.8 106.8,120.2 107.9,120.4 109.1,121.4 110.0,120.5 111.5,117.3 112.7,115.8 114.3,115.2 115.6,115.2 117.0,115.8 118.1,116.4 119.5,117.6 120.7,117.3 122.5,115.7 124.1,114.7 126.2,114.0 127.8,114.0 129.9,114.7 131.6,114.8 133.7,114.4 135.3,114.5 137.4,115.2 139.1,115.1 141.2,113.9 142.8,113.0 144.9,111.5 146.6,110.9 148.7,110.6 150.6,110.8 153.4,111.5 155.6,112.0 158.4,112.7 160.1,112.9 161.4,112.6 162.3,113.2 163.0,114.8 164.1,116.2 166.2,117.8 167.8,119.1 169.9,120.5 171.0,121.7 171.7,123.5 171.6,125.2 170.4,127.6 168.8,129.2 165.7,131.0 162.8,132.3 158.7,133.7 154.8,134.8 149.2,136.2 145.4,137.3 141.2,138.7 138.1,139.7 134.6,140.8 130.8,141.5 124.5,142.0 119.2,141.9 112.2,140.9 107.8,140.3 103.7,139.9 100.6,139.5 97.1,139.0 95.1,138.3 93.4,137.2 93.1,136.2 94.1,134.8 95.1,133.7 96.4,132.3 96.2,131.3 94.1,130.0 91.9,129.3 88.4,128.7 85.6,128.4 82.1,128.1 80.6,127.6 80.4,126.4 81.7,125.8 85.5,125.2 88.4,124.8 91.9,124.4 93.4,123.8 93.8,122.7 92.5,122.1 88.5,121.9 85.6,121.8 82.1,121.8 79.9,121.5 77.8,120.8 77.5,119.7M244.1,194.7 245.1,194.4 247.7,193.7 250.4,193.4 254.6,193.4 257.5,193.5 260.6,193.7 262.1,194.4 262.6,195.9 262.2,197.4 260.6,199.5 260.4,200.7 261.5,201.8 263.1,202.2 266.3,202.2 268.5,202.5 271.2,203.2 272.0,204.5 271.5,206.9 270.6,209.1 269.1,212.2 268.0,214.9 267.0,218.6 267.4,220.2 269.5,220.7 271.1,221.6 273.2,223.1 274.9,224.6 277.0,226.7 278.4,228.7 280.0,231.9 281.2,234.0 282.8,236.1 284.3,237.7 286.4,239.8 288.0,241.7 290.1,244.3 291.4,246.1 292.7,248.2 292.5,249.9 290.7,252.0 290.4,253.2 291.5,254.3 293.1,254.1 296.3,252.5 298.7,251.9 301.9,251.9 303.8,252.7 305.3,254.8 305.7,257.1 305.2,260.8 304.4,263.4 302.8,266.6 301.6,268.9 300.0,271.5 299.0,273.0 297.9,274.4 297.5,274.9M244.1,194.7 243.4,195.3 241.9,196.9 241.0,198.5 240.5,201.2 239.5,202.8 237.4,204.4 235.9,205.8 234.4,207.9 234.4,209.4 235.9,210.9 235.5,212.2 232.9,213.8 232.5,214.8 234.1,215.8 235.7,216.7 238.3,217.7 238.8,218.7 237.2,220.3 237.4,221.6 239.5,223.1 241.3,224.2 244.0,225.2 245.7,225.4 247.6,224.9 248.0,225.5 247.2,227.6 247.3,229.3 248.3,231.4 250.0,232.0 253.1,231.5 255.6,231.7 258.8,232.7 260.8,234.0 262.9,236.1 264.0,237.7 264.5,239.8 263.7,241.2 261.0,242.8 258.4,243.9 254.2,244.9 251.9,246.1 250.3,248.2 249.9,249.9 250.4,252.0 251.5,253.0 253.6,253.5 253.8,254.6 252.2,256.7 250.9,258.5 249.4,261.2 248.1,262.8 246.6,264.4 247.0,265.4 249.6,266.5 252.3,267.1 256.5,267.6 259.6,267.6 263.2,267.1 265.1,267.1 266.2,267.6 265.7,268.4 263.6,270.0 261.4,270.6 257.7,270.6 256.3,270.6M225.9,202.6 227.5,200.3 229.2,198.6 231.8,196.5 233.6,195.3 235.7,194.6 236.8,194.8 237.3,196.1 236.7,197.4 234.6,199.5 232.7,201.1 230.1,203.2 228.2,203.9 226.1,203.6 225.9,202.6M276.6,174.2 278.1,172.1 279.8,170.8 282.4,169.8 284.1,169.6 285.6,170.1 286.0,171.3 285.5,174.0 284.5,175.8 282.4,177.9 280.7,179.0 278.6,179.5 277.4,178.7 276.4,176.0 276.6,174.2M218.1,231.6 221.3,230.0 224.2,229.0 228.4,227.9 231.4,227.2 235.1,226.3 237.4,226.1 239.5,226.4 240.7,227.8 241.8,231.0 242.0,233.6 241.5,237.3 240.6,240.0 239.1,243.1 238.2,246.0 237.7,250.2 237.3,253.5 236.8,257.7 235.1,260.0 231.4,261.6 228.4,262.8 224.2,264.4 220.9,265.4 216.7,266.5 213.4,267.1 209.2,267.6 206.3,267.0 203.1,264.9 202.5,262.8 204.1,259.7 205.1,257.2 206.2,254.1 205.5,251.8 202.9,249.2 202.3,247.1 203.3,244.5 205.2,242.8 208.9,241.2 211.1,239.4 213.2,236.2 214.7,234.4 216.3,232.8 218.1,231.6M279.7,230.0 280.3,231.2 281.9,234.4 283.7,236.7 286.9,239.3 289.2,241.6 291.8,244.7 292.6,247.0 292.1,249.6 292.7,251.2 294.8,252.8 297.1,253.2 300.7,252.7 303.0,253.1 305.1,254.7 305.7,256.6 305.2,259.7 304.0,261.8 301.3,263.9 299.7,265.1 298.1,266.2 298.5,267.0 301.2,268.0 302.4,269.1 302.9,270.6 301.9,271.7 298.7,273.0 295.9,273.8 291.7,274.4 288.4,274.7 284.2,274.9 280.9,275.2 276.7,275.7 273.4,276.1 269.2,276.7 265.9,277.3 261.7,278.3 258.4,279.2 254.2,280.2 251.1,281.0 247.4,282.1 245.1,282.3 243.0,281.8 242.6,280.9 243.7,279.4 245.5,277.9 249.2,275.8 252.3,274.4 256.5,272.8 259.4,271.8 262.5,270.7 264.4,269.5 265.9,267.4 265.5,267.0 262.9,268.0 260.2,268.0 256.0,267.0 252.7,266.4 248.5,265.8 246.5,265.1 245.4,263.9 246.2,262.8 249.4,261.5 251.7,260.3 254.3,258.7 254.7,257.5 253.1,255.9 251.9,254.9 250.3,253.9 250.1,252.6 251.2,250.5 253.0,249.3 256.7,248.2 259.4,247.4 262.5,246.4 264.0,244.7 264.5,241.6 264.3,239.3 263.2,236.7 263.2,234.4 264.3,231.2 264.7,230.0M345.3,247.4 344.7,247.5 343.1,247.7 341.3,248.4 338.1,250.0 335.6,251.9 332.5,255.0 330.0,257.5 326.9,260.6 324.4,262.9 321.2,265.5 318.8,267.3 315.6,269.1 313.1,270.2 310.0,271.2 307.7,272.0 305.1,273.1 304.1,274.7 304.1,277.6 303.4,279.8 301.9,282.4 300.0,283.9 296.9,284.9 294.8,286.3 292.7,289.0 290.6,290.2 287.5,290.7 285.0,290.8 281.9,290.5 280.2,289.7 279.2,287.9 277.9,287.0 275.8,286.5 274.8,286.7 274.3,287.7 274.9,288.7 277.0,290.3 277.4,291.8 276.4,293.9 274.7,295.1 271.6,296.2 268.9,296.6 265.2,296.6 262.5,296.6 259.4,296.6 256.9,296.8 253.7,297.3 251.9,297.9 250.3,299.0 250.1,300.4 251.2,303.0 252.6,304.5 255.2,305.5 257.3,306.1 259.9,306.7 261.8,307.3 263.9,308.3 265.5,309.2 267.6,310.2 269.3,311.2 271.4,312.8 272.6,314.5 273.7,317.1 274.7,319.0 276.3,321.1 277.5,322.5 279.1,324.1 280.1,325.7 281.2,328.3 282.2,330.4 283.8,333.0 284.0,333.7 283.2,332.6 282.4,331.6 281.1,330.0 280.4,330.6 279.9,333.8 279.6,337.2 279.3,342.8 279.1,344.9M334.7,187.9 335.3,187.0 336.9,184.6 338.7,183.0 341.9,181.4 343.3,179.8 343.9,177.2 342.6,176.5 338.9,177.6 336.7,178.4 334.6,179.5 334.2,178.9 335.2,176.2 335.2,174.2 334.2,171.5 334.0,169.3 334.5,166.1 334.9,163.6 335.4,160.5 336.9,158.0 340.0,154.9 342.9,152.6 347.1,150.0 350.4,148.1 354.6,146.0 357.1,144.4 359.2,142.3 361.2,141.0 364.4,140.0 367.3,139.2 371.5,138.1 374.4,136.7 377.5,134.0 380.0,132.0 383.1,129.3 385.6,127.5 388.8,125.4 391.0,123.7 393.7,121.6 395.3,119.8 396.9,117.2 398.5,115.3 401.2,113.2 403.2,111.6 405.8,109.5 408.1,107.8 411.3,105.7 413.7,104.1 416.9,102.0 419.0,100.1 421.1,97.5 422.1,95.8 422.6,94.2 421.8,93.5 419.2,93.3 416.5,93.7 412.3,94.7 409.2,95.4 405.5,96.2 403.7,96.0 402.6,95.0 403.6,93.9 407.3,92.4 410.0,91.3 413.1,90.3 414.8,89.1 415.8,87.0 417.5,85.7 420.6,84.7 423.1,83.6 426.3,82.1 428.3,81.0 430.4,80.0 431.9,80.4 433.5,82.5 434.9,84.1 437.0,86.2 438.4,86.4 440.0,84.9 440.0,83.4 438.4,81.3 439.7,80.1 444.4,79.0 447.9,78.2 452.1,77.2 455.4,76.5 459.6,76.0 462.9,75.4 467.1,74.4 469.6,73.7 471.7,73.2 472.5,73.0M480.0,123.6 479.2,124.5 477.1,126.6 475.4,128.6 473.3,131.8 471.3,134.2 468.1,137.4 465.2,139.7 461.0,142.3 457.7,144.1 453.5,146.2 450.6,147.9 447.5,150.0 445.6,151.8 444.1,154.5 442.8,156.7 441.3,159.9 440.4,162.4 439.9,165.5 440.3,167.8 441.9,170.4 443.7,172.3 446.9,174.4 449.4,175.8 452.5,177.4 454.2,179.2 455.2,182.4 455.4,184.6 454.9,187.0 454.7,187.9M461.9,175.4 463.5,174.6 464.7,174.6 466.3,175.4 466.4,176.3 465.1,177.5 463.9,177.5 462.0,176.3 461.9,175.4M337.5,150.0 336.9,151.7 335.3,155.9 334.5,159.6 334.0,164.8 334.8,167.1 337.4,167.6 339.5,169.7 342.1,174.4 341.5,176.9 337.3,178.4 336.0,180.3 337.1,183.5 338.7,185.3 341.9,186.9 342.5,188.1 340.9,189.7 341.3,191.3 344.0,194.0 346.7,195.7 350.9,197.6 354.2,198.5 358.4,199.0 361.7,198.4 365.9,196.6 368.7,195.1 371.9,193.0 374.4,191.6 377.5,190.0 379.6,188.6 381.7,186.5 382.6,184.6 382.8,182.0 383.2,182.0 384.0,184.6 385.2,186.0 387.3,187.1 388.3,189.2 388.9,193.4 389.7,196.2 391.3,199.4 392.7,201.9 394.8,205.0 396.7,207.5 399.3,210.6 400.5,213.1 401.0,216.3 400.8,218.3 399.8,220.4 400.0,222.5 401.6,225.6 403.2,227.3 405.8,228.3 408.1,228.1 411.3,226.6 413.7,225.1 416.9,223.0 419.4,221.6 422.5,220.0 425.0,219.0 428.1,217.9 430.1,216.9 432.0,215.3 432.8,215.3 433.0,216.9 434.0,216.7 436.1,214.6 437.3,212.1 438.3,207.9 438.1,205.0 436.6,201.9 436.2,199.4 436.7,196.2 438.1,193.8 441.3,190.6 443.3,189.0 445.4,187.9 447.5,186.7 450.6,184.6 453.1,182.9 456.3,180.8 457.1,179.2 456.0,177.1 454.4,175.8 451.2,174.8 448.4,174.0 444.2,172.9 441.9,171.7 440.3,169.6 439.9,167.1 440.4,162.9 441.5,160.0 443.6,156.9 444.8,154.4 445.8,151.2 446.3,150.0M370.3,242.8 369.7,241.8 368.1,239.2 367.7,236.9 368.2,233.7 367.6,231.3 365.5,228.1 364.5,225.2 364.0,221.0 364.6,218.3 366.7,215.7 368.5,214.5 371.2,214.0 372.4,212.5 372.9,209.4 374.0,207.5 376.1,205.9 377.7,205.1 379.8,204.6 381.0,205.2 382.1,207.3 382.1,209.0 381.0,211.1 381.7,212.5 384.3,214.1 385.1,215.3 384.6,216.9 383.1,218.5 380.0,221.2 377.9,223.2 375.8,225.8 375.4,228.1 376.5,231.3 377.9,233.3 380.5,235.4 382.6,236.7 385.2,237.7 386.3,238.1M388.3,226.2 388.9,229.4 390.1,231.0 392.7,232.1 394.8,231.9 397.4,230.3 398.2,228.5 397.7,225.3 396.5,223.8 393.8,223.0 391.8,223.2 389.2,224.5 388.3,226.2M345.3,247.4 345.9,246.9 347.3,245.7 348.8,245.3 351.5,245.5 353.7,245.0 356.9,243.4 359.8,242.6 364.0,242.1 366.7,242.1 369.3,242.6 372.2,242.2 376.9,240.6 380.4,239.6 384.6,238.5 387.1,238.7 389.2,240.3 391.7,240.3 395.9,238.7 399.2,237.5 403.4,235.9 406.2,235.9 409.4,237.5 411.7,239.0 414.3,241.1 415.9,241.5 417.5,240.4 419.8,239.6 424.0,238.5 427.7,237.7 432.9,236.7 437.1,235.8 442.3,234.8 446.0,234.2 450.2,233.6 452.7,233.9 454.8,234.9 456.9,234.7 460.0,233.1 462.9,231.9 467.1,230.3 470.0,228.7 473.1,226.0 474.8,223.8 475.8,220.6 476.1,217.7 475.5,213.5 475.9,210.6 477.5,207.5 478.5,205.8 479.6,204.8 480.0,204.4M448.8,203.6 450.3,201.5 452.4,200.3 456.1,199.5 457.9,199.9 459.0,201.8 458.6,203.5 456.5,206.2 454.6,207.8 452.0,209.4 450.3,208.8 448.8,205.6 448.8,203.6M461.0,175.8 462.8,174.8 464.3,174.8 466.1,175.8 466.3,176.7 464.7,178.0 463.2,178.0 461.1,176.7 461.0,175.8M545.6,73.0 547.1,73.6 551.0,75.2 554.5,76.1 559.7,76.9 563.8,77.4 569.0,77.9 573.0,78.7 578.2,80.4 581.3,81.8 583.9,83.4 586.9,83.9 592.1,83.6 596.2,83.7 601.4,84.3 605.4,85.1 610.6,86.4 614.7,87.5 619.9,89.0 623.9,90.3 629.1,92.0 633.7,93.1 640.2,94.1 642.7,94.5M571.0,103.1 572.0,104.1 574.6,106.7 577.7,108.2 582.8,109.5 586.2,110.8 589.4,112.7 591.4,115.3 593.4,119.8 594.4,123.1 595.0,127.0 596.6,129.5 599.8,132.1 603.1,133.5 608.3,134.6 612.4,135.7 617.5,137.5 620.5,137.6 622.8,136.1 623.1,134.5 621.4,132.2 619.2,131.1 615.3,130.6 613.3,129.5 612.0,127.5 612.2,126.1 614.2,124.9 616.7,124.5 621.3,124.9 625.1,125.9 630.3,128.1 634.6,129.4 640.4,130.6 642.7,131.0M571.0,103.1 573.0,103.3 578.2,104.0 582.3,105.0 587.5,106.9 591.5,107.9 596.7,108.6 601.3,109.5 607.8,111.2 612.9,112.4 619.3,113.7 624.4,114.3 630.9,114.5 635.5,114.2 640.7,113.0 642.7,112.5M460.0,142.4 461.5,141.6 465.4,139.7 468.5,137.9 472.3,135.3 474.9,132.8 477.5,128.9 479.0,126.3 480.3,123.7 482.3,122.0 486.2,120.0 489.8,119.0 495.0,118.4 499.0,118.4 504.2,119.0 507.5,119.9 510.8,121.4 511.3,123.2 509.3,126.2 507.0,128.4 503.2,131.0 500.1,133.0 496.2,135.6 493.2,137.6 489.3,140.2 486.2,142.0 482.3,143.9 479.5,145.1 476.3,146.1 475.3,148.2 475.9,152.3 476.4,156.0 477.1,161.2 477.9,164.7 479.1,168.6 480.9,171.1 484.2,173.7 486.5,175.5 489.0,177.5 490.6,178.7 491.9,180.0 494.4,180.0 499.6,178.7 504.2,177.5 510.6,175.5 515.7,174.4 522.2,173.3 527.3,172.9 533.8,172.9 537.8,173.3 541.7,174.4 545.3,175.3 550.5,176.6 551.5,177.6 548.9,178.9 545.8,179.1 540.7,178.5 536.6,178.7 531.4,180.0 527.3,180.8 522.2,181.4 518.1,182.2 512.9,183.5 508.8,184.3 503.7,184.9 500.6,185.9 498.0,187.9 496.5,189.7 495.2,192.2 496.0,194.0 499.2,196.0 501.5,197.2 504.1,198.5 504.6,200.3 503.3,203.6 501.5,205.3 498.3,206.6 495.5,206.6 491.6,205.3 488.5,205.1 484.7,205.7 482.1,206.7 479.5,208.7 478.0,210.7 476.7,213.8 476.2,215.0M554.9,163.3 558.2,160.7 561.0,160.2 564.9,161.5 568.4,163.1 573.6,165.6 576.4,167.9 578.3,171.2 578.3,173.5 576.4,176.1 574.1,176.8 570.2,176.2 567.7,176.7 565.1,178.6 563.1,177.9 560.5,174.0 558.2,170.7 554.9,166.1 554.9,163.3M484.7,189.4 488.5,188.5 490.6,189.3 491.9,192.1 491.6,194.3 489.7,196.9 487.6,197.6 484.4,197.0 482.9,195.9 482.2,193.7 482.2,192.1 482.9,190.5 484.7,189.4M461.9,174.5 463.9,173.9 465.1,174.1 466.4,175.4 466.3,176.4 464.8,177.7 463.5,178.0 461.8,177.3 461.2,176.6 461.2,175.3 461.9,174.5M280.6,329.1 280.6,330.9 280.6,335.6 280.4,339.2 279.9,343.4 279.1,346.2 277.5,349.4 275.6,351.1 272.5,352.4 269.6,352.7 265.4,352.3 262.1,352.0 257.9,351.7 254.6,351.7 250.4,352.0 247.1,351.9 242.9,351.2 239.6,350.8 235.4,350.4 232.1,349.9 227.9,349.1 224.6,348.8 220.4,348.8 217.1,350.0 212.9,353.1 211.7,356.0 212.7,360.2 213.5,363.7 214.6,368.5 214.8,372.2 214.3,376.9 213.4,380.8 211.9,386.1 210.6,389.8 209.1,394.0 208.6,396.9 209.2,400.0 210.4,401.9 213.0,403.4 213.9,405.5 213.3,409.2 213.1,412.1 213.1,415.7 214.4,417.4 217.5,417.9 220.4,417.9 224.6,417.4 227.5,417.6 230.6,418.7 232.7,420.1 234.8,422.7 236.2,424.6 237.8,426.7 239.3,428.1 241.4,429.7 243.2,429.5 245.8,427.4 248.5,425.9 252.7,424.4 256.0,423.3 260.2,422.3 263.5,421.8 267.7,421.6 270.6,421.0 273.8,419.6 276.2,418.2 279.4,416.1 281.5,414.3 283.6,411.7 285.0,409.6 286.6,407.0 288.2,404.9 290.8,402.3 291.7,400.0 291.1,396.9 290.3,394.8 288.7,392.7 289.0,390.6 291.1,387.5 293.1,385.0 296.3,381.9 298.7,379.4 301.9,376.2 304.4,374.0 307.5,371.3 310.0,369.7 313.1,368.1 315.2,366.7 317.3,364.6 318.1,362.5 318.1,359.4 318.5,356.9 319.6,353.7 320.8,351.7 322.9,349.6 325.0,349.0 328.1,349.5 330.6,350.3 333.8,351.9 336.7,352.3 340.9,351.8 343.7,350.9 346.9,349.4 348.1,348.8M242.2,430.3 243.0,431.4 245.1,434.0 247.4,435.6 251.1,437.2 254.2,438.0 258.4,438.6 261.7,438.6 265.9,438.0 269.2,437.6 273.4,437.1 276.7,436.5 280.9,435.4 283.7,434.2 286.9,432.1 289.4,430.4 292.5,428.3 295.4,426.7 299.6,424.6 303.3,423.3 308.6,422.3 312.7,421.7 317.9,421.1 322.5,421.1 328.8,421.7 332.9,421.5 337.1,420.4 340.4,419.6 344.6,418.5 347.1,417.9 349.2,417.4 350.0,417.2M312.6,390.2 315.2,388.5 317.5,388.5 320.6,390.2 321.1,392.0 319.0,394.6 317.1,395.2 314.5,394.2 313.0,393.1 312.0,391.6 312.6,390.2M324.6,387.7 326.7,386.7 327.9,386.9 329.0,388.4 328.8,389.5 327.2,390.5 326.0,390.3 324.4,388.7 324.6,387.7M301.8,397.3 303.0,396.8 303.6,397.2 303.9,398.8 303.7,399.5 302.6,399.7 302.0,399.3 301.5,398.0 301.8,397.3M348.1,348.7 348.9,349.0 350.9,349.7 353.2,349.2 357.2,347.1 360.4,345.4 364.6,343.3 367.5,342.2 370.6,341.3 373.1,341.7 376.3,343.6 378.1,345.6 379.7,348.8 380.9,351.4 382.5,355.1 384.2,357.8 386.8,361.0 389.1,362.8 392.2,364.4 394.5,366.0 397.1,368.7 399.4,370.5 402.5,372.6 405.0,374.1 408.1,375.6 410.6,377.1 413.8,379.2 416.2,381.0 419.4,383.7 421.9,385.3 425.0,386.9 427.1,388.5 429.2,391.2 430.3,393.6 431.0,397.3 430.9,400.0 430.0,403.1 428.9,405.5 427.0,408.5 426.9,409.3 428.4,408.5 430.1,407.1 432.7,404.5 434.6,402.2 436.7,399.1 438.1,397.0 439.7,394.9 439.8,393.0 438.4,390.4 438.2,388.3 439.1,385.7 440.4,384.3 443.0,383.2 445.3,383.2 448.5,384.3 450.3,385.5 451.9,387.6 452.2,389.0 451.3,390.3 450.3,389.5 448.5,386.1 446.6,383.7 443.4,381.0 440.8,379.2 437.1,377.1 434.4,375.5 431.2,373.6 429.0,372.1 426.3,370.0 424.1,368.0 420.9,365.2 418.7,363.2 416.0,361.1 414.4,358.9 412.8,355.2 411.2,352.5 408.5,349.4 406.5,347.1 403.8,344.5 402.0,342.4 399.9,339.8 398.8,337.8 398.0,335.5 398.3,333.8 399.8,331.7 401.3,330.2 403.7,328.5 405.6,327.8 408.1,327.6 409.4,328.4 410.5,330.7 411.8,332.6 414.1,335.0 415.8,336.6 417.9,338.1 420.8,340.4 426.1,344.6 430.2,347.5 435.4,350.6 440.0,353.5 446.3,357.7 450.4,360.4 454.6,363.0 457.1,364.7 459.2,366.3 460.4,368.5 461.5,372.7 462.1,376.4 462.6,381.7 463.4,385.4 465.0,389.6 466.5,392.9 468.6,397.1 469.8,400.0 470.8,403.1 471.9,405.1 473.5,407.0 474.1,407.8M367.1,359.9 369.2,358.9 370.8,358.0 372.9,357.0 374.0,357.6 374.5,360.2 374.5,362.5 374.0,365.6 373.3,367.9 372.3,370.5 371.1,371.8 369.0,372.3 367.6,371.5 366.4,368.8 365.8,367.0 365.4,364.9 365.5,363.2 366.0,361.1 367.1,359.9M364.5,377.7 367.1,376.7 369.2,375.8 371.8,374.8 373.4,375.2 375.0,377.3 375.8,379.6 376.4,383.2 376.4,386.1 375.8,389.8 375.0,392.3 373.4,394.9 371.8,396.4 369.2,397.4 367.3,397.6 365.2,397.1 364.2,395.6 363.6,392.5 363.6,390.0 364.2,386.9 364.0,384.8 362.9,382.7 362.7,381.1 363.2,379.0 364.5,377.7M401.2,408.7 404.4,407.6 407.3,407.3 411.5,407.6 414.8,407.5 419.0,406.9 422.0,407.4 425.3,409.3 426.3,411.0 425.6,413.7 424.7,415.9 423.1,419.1 421.9,420.7 420.3,421.8 418.7,421.6 416.0,420.0 413.8,418.8 410.6,417.2 408.1,415.9 405.0,414.4 402.9,413.3 400.8,412.3 400.0,411.3 400.0,409.7 401.2,408.7M340.0,420.3 341.7,419.9 345.9,418.9 349.2,418.4 353.4,418.4 356.7,418.2 360.9,417.7 364.2,417.5 368.4,417.5 371.2,417.2 374.4,416.3 377.3,416.3 381.5,417.2 383.7,418.3 385.3,420.4 385.5,422.1 384.5,424.2 384.3,426.2 384.8,429.4 384.6,431.6 383.5,434.0 383.1,434.9M395.0,420.8 395.6,420.6 396.0,420.8 396.2,421.5 396.0,421.9 395.4,422.1 395.0,421.9 394.8,421.2 395.0,420.8M415.4,428.6 416.5,428.2 417.1,428.4 417.8,429.5 417.7,430.2 416.8,431.1 416.2,431.2 415.3,430.8 415.0,430.2 415.0,429.2 415.4,428.6M421.3,402.0 421.9,401.8 422.2,402.0 422.4,402.6 422.3,403.0 421.6,403.2 421.3,403.0 421.1,402.4 421.3,402.0M562.8,286.4 563.9,285.3 565.3,285.3 567.9,286.4 570.2,287.1 573.3,287.9 575.8,288.7 578.9,289.7 580.5,290.7 581.6,292.2 581.4,292.9 579.8,293.2 578.0,292.9 574.8,291.8 572.4,291.0 569.3,290.0 567.0,289.3 564.4,288.6 563.2,287.9 562.6,287.1 562.8,286.4M582.0,293.3 583.6,293.9 587.8,295.5 590.9,296.5 594.5,297.5 596.8,298.6 598.9,300.1 599.8,302.0 600.1,305.1 599.7,307.2 598.4,309.2 596.6,310.6 593.5,312.0 590.8,313.1 587.2,314.5 584.1,315.6 579.9,317.0 576.8,318.1 573.2,319.4 571.3,320.4 570.3,321.7 570.5,322.6 572.1,323.6 573.9,324.2 577.0,324.8 579.5,324.9 582.6,324.5 584.1,324.7 584.6,325.6 583.8,326.3 581.2,327.4 579.3,328.3 577.2,329.5 576.8,330.5 577.9,331.9 579.3,332.6 581.9,333.2 583.3,334.4 584.4,337.0 585.4,338.8 587.0,340.9 588.6,341.3 591.2,340.3 593.3,339.3 595.9,337.7 597.9,336.7 600.5,335.6 602.8,335.0 605.9,334.5 607.4,333.9 607.9,332.8 607.3,332.0 605.2,331.0 603.1,330.0 600.0,328.4 597.7,327.4 595.1,326.3 593.1,325.7 590.5,325.2 589.0,324.6 588.0,323.5 588.4,323.2 590.5,323.5 592.5,323.8 595.7,324.0 597.9,323.4 600.5,321.9 602.8,320.7 605.9,319.4 608.6,318.3 612.2,317.1 615.3,316.3 619.5,315.4 622.8,314.8 626.9,314.1 629.6,313.7 632.2,313.4 633.2,313.6 633.2,314.4 632.2,315.1 629.6,316.2 627.4,317.1 624.2,318.3 622.6,319.2 621.5,320.0 622.0,320.7 624.0,321.8 624.5,323.0 623.4,325.1 622.2,326.7 620.1,328.8 618.4,330.2 616.4,331.8 614.7,332.6 612.6,333.2 611.6,333.7 611.1,334.5 612.1,335.1 615.2,335.9 617.9,336.8 621.6,338.3 624.2,339.8 627.4,341.9 629.6,343.7 632.2,346.3 634.3,348.0 636.9,349.5 638.7,350.4 640.8,351.0 641.6,351.3M569.9,319.4 568.9,319.3 566.3,318.9 564.0,319.1 560.9,319.7 558.8,320.6 556.7,322.4 555.3,323.9 553.7,326.0 552.5,327.5 550.9,329.0 550.1,330.7 549.6,333.3 548.4,334.7 545.8,335.7 544.1,337.2 542.5,339.8 541.8,342.0 541.5,345.2 540.5,347.2 538.2,349.3 536.7,351.4 535.1,354.5 534.1,357.0 533.0,360.1 533.0,362.5 534.1,365.7 535.1,367.9 536.7,370.5 538.1,372.4 540.2,374.5 541.6,375.9 543.2,377.5 545.6,377.8 550.3,376.9 554.2,376.1 559.4,374.9 563.1,373.5 567.3,371.5 570.6,370.0 574.8,368.5 578.0,367.6 582.2,366.8 585.5,366.4 589.7,366.1 592.5,366.0 595.7,366.0 597.7,366.6 599.8,368.2 601.9,369.2 605.0,370.2 607.5,371.2 610.6,372.8 613.5,373.8 617.6,374.9 620.9,375.5 625.1,376.0 628.4,376.4 632.5,377.0 635.8,377.3 640.0,377.6 641.6,377.7M440.0,480.2 441.8,481.1 446.3,483.4 449.8,485.3 454.3,488.0 457.2,488.9 460.2,488.4 462.3,486.8 464.5,483.0 465.7,479.5 466.4,474.3 467.9,470.8 470.9,467.0 473.8,465.0 478.3,463.5 481.9,463.2 486.4,463.9 489.3,465.1 492.3,467.3 495.2,468.8 499.7,470.3 503.2,471.2 507.7,471.9 510.7,473.0 513.7,474.9 516.6,476.1 521.1,477.2 524.6,478.2 529.1,479.7 532.6,480.7 537.1,481.7 540.7,482.3 545.2,482.7 548.7,482.3 553.2,480.8 556.7,479.7 561.2,478.2 564.7,478.2 569.2,479.7 572.7,480.4 577.2,480.9 580.8,480.7 585.3,479.8 588.5,478.4 592.2,475.9 594.6,473.4 596.8,469.7 598.3,466.4 599.8,462.0 601.0,458.1 602.5,452.9 603.5,448.8 604.7,443.5 605.3,439.4 605.6,434.2 606.0,430.1 606.8,424.8 606.5,422.5 605.0,421.7 603.2,422.3 600.2,424.6 597.6,425.9 593.8,427.1 590.6,428.0 586.1,429.0 582.6,429.7 578.1,430.5 575.4,430.7 573.2,430.4 572.3,430.3M572.3,481.0 572.6,482.9 573.4,487.7 574.2,491.4 575.7,495.9 577.2,499.4 579.5,503.9 581.2,507.1 583.5,510.8 584.9,513.8 586.4,517.5 587.3,521.4 588.1,527.3 588.7,532.8 589.4,540.7 589.7,543.9M587.0,513.7 587.9,511.9 590.1,507.4 591.8,503.8 593.7,499.0 594.9,499.0 596.0,503.8 596.8,506.9 597.8,510.2 599.4,513.8 602.4,519.4 604.8,523.9 607.8,529.6 610.3,534.4 613.7,541.0 615.1,543.6M573.9,439.4 576.6,437.4 579.1,436.3 582.9,435.2 585.5,434.4 588.5,433.3 590.6,433.0 592.8,433.3 593.1,434.2 591.6,436.0 589.9,437.6 586.9,440.0 584.5,441.7 581.5,443.4 579.2,444.0 576.2,443.7 574.5,442.9 573.3,440.9 573.9,439.4M244.5,429.0 244.0,429.4 242.6,430.4 241.2,432.4 239.1,436.6 237.7,440.2 236.3,445.1 234.9,448.7 232.8,452.9 230.4,455.6 226.2,458.4 222.9,460.6 218.7,463.4 215.6,465.6 212.1,468.4 209.9,471.2 207.8,475.4 206.7,478.9 206.0,483.8 204.9,487.1 202.8,490.6 200.9,493.6 198.1,497.9 195.3,501.2 191.2,505.4 187.8,508.1 183.7,510.9 180.6,513.1 177.1,515.9 174.7,518.6 171.8,522.9 169.7,526.1 166.8,530.4 164.9,533.7 162.8,537.9 161.7,540.6 161.0,543.4 160.8,544.5M172.4,499.8 173.6,499.2 174.1,499.7 174.4,501.3 174.1,502.3 172.9,503.2 172.4,502.7 172.1,500.8 172.4,499.8M166.3,507.7 167.7,506.3 168.6,506.6 169.6,508.7 169.3,510.3 167.7,512.4 166.4,513.0 165.1,512.3 164.8,511.2 165.5,509.1 166.3,507.7M150.7,512.8 152.0,511.5 153.1,511.2 154.4,511.8 155.1,512.7 155.4,514.3 155.0,515.3 153.6,516.2 152.5,516.3 151.2,515.7 150.6,515.0 150.4,513.7 150.7,512.8M143.1,510.2 145.9,508.8 147.6,508.5 148.9,509.2 148.7,510.6 146.6,513.4 144.9,513.7 142.8,511.6 143.1,510.2M133.1,504.9 134.1,504.6 134.6,505.2 134.9,506.8 134.6,507.6 133.6,507.9 133.1,507.3 132.9,505.7 133.1,504.9M136.9,511.9 138.1,511.6 138.6,511.9 138.9,513.1 138.6,513.6 137.4,513.9 136.9,513.6 136.6,512.4 136.9,511.9M132.8,515.4 133.7,515.1 134.1,515.4 134.4,516.6 134.2,517.1 133.3,517.4 132.9,517.1 132.6,515.9 132.8,515.4M140.3,463.0 142.4,462.3 143.8,462.7 145.2,464.3 144.9,465.3 142.8,466.0 141.5,465.6 140.1,463.9 140.3,463.0M146.8,459.4 147.7,459.1 148.1,459.3 148.4,460.2 148.2,460.6 147.3,460.9 146.9,460.7 146.6,459.8 146.8,459.4M382.0,417.0 383.1,417.6 385.9,419.0 386.7,421.2 386.0,425.4 385.2,428.6 383.8,432.9 382.4,436.2 380.3,440.4 378.9,443.6 377.6,447.9 378.1,450.6 380.9,453.4 383.7,455.2 387.9,456.8 391.1,458.2 395.4,460.0 398.7,461.3 402.9,462.7 406.1,463.5 410.4,464.2 413.7,465.1 417.9,466.4 420.6,468.1 423.4,470.9 425.1,473.1 426.4,475.9 428.6,477.6 432.9,478.9 435.7,479.6 438.8,479.9 440.0,480.0M440.0,357.2 441.2,357.4 444.4,357.9 446.9,358.5 450.0,359.6 452.5,360.8 455.6,362.9 457.7,364.6 459.8,366.7 460.8,368.7 461.4,371.9 461.7,374.8 462.0,379.0 462.4,382.3 463.2,386.5 464.1,389.4 465.6,392.5 467.1,395.0 469.2,398.1 470.6,400.4 472.2,403.0 473.6,404.5 475.7,405.5 477.4,406.6 479.5,408.1 480.3,408.8M494.2,405.3 493.6,408.5 492.5,410.3 490.1,411.9 489.3,413.7 489.6,416.9 490.3,419.0 491.9,421.1 492.1,422.5 491.0,424.1 489.8,424.3 487.7,423.2 486.3,422.0 484.7,419.9 483.4,418.4 481.9,416.9 480.6,415.4 479.1,413.3 478.9,411.7 479.9,409.6 481.3,408.3 484.0,407.3 486.0,406.7 488.7,406.1 490.7,405.5 493.3,404.5 494.2,405.3M494.4,404.1 494.4,402.8 494.4,399.7 493.8,397.6 492.2,395.5 491.2,393.7 490.1,391.0 489.6,389.0 489.3,386.3 489.7,384.7 491.0,383.1 492.2,383.3 493.8,385.4 495.2,386.7 497.3,387.7 499.0,387.5 501.1,385.9 501.5,384.7 500.7,383.1 501.3,381.9 503.7,380.3 506.1,379.5 509.8,379.0 512.9,379.0 517.1,379.5 520.0,380.1 523.1,381.2 525.6,381.9 528.8,382.6 531.4,383.0 535.1,383.5 537.9,383.6 541.4,383.5 542.8,383.4M497.1,401.6 499.2,403.4 501.0,405.1 503.7,407.7 505.5,409.6 507.6,411.7 509.1,412.7 510.6,413.2 510.8,412.7 509.8,411.0 508.6,409.4 506.5,407.3 504.6,405.7 502.0,403.6 499.9,402.3 497.3,401.3 497.1,401.6M542.8,383.4 541.6,383.6 538.7,384.2 536.3,384.2 533.1,383.6 530.8,383.6 528.2,384.2 526.2,385.2 523.5,387.3 521.9,389.2 520.3,391.8 520.3,393.2 521.9,394.3 522.7,395.5 523.2,397.6 522.8,399.3 521.2,401.4 521.5,402.6 523.6,403.7 524.0,404.9 522.9,407.0 523.3,408.4 525.4,410.0 526.7,411.7 527.7,414.3 529.0,415.9 531.1,417.5 532.7,418.5 534.8,419.6 536.5,420.8 538.6,422.9 540.6,424.0 543.8,424.5 546.2,424.3 549.4,423.2 551.9,422.6 555.0,422.1 557.5,422.1 560.6,422.6 563.1,423.4 566.3,425.0 568.7,426.0 571.9,427.1 574.4,427.9 577.5,429.0 579.2,429.5 580.2,430.0 580.6,430.1M542.8,383.4 544.1,383.0 547.4,382.0 550.0,381.4 553.1,380.8 554.0,380.0 552.9,378.4 551.3,377.6 548.1,377.1 546.1,377.4 544.0,378.6 543.1,379.1M498.2,436.5 500.8,435.4 503.1,435.4 506.3,436.5 509.2,437.1 513.4,437.6 516.0,438.0 518.7,438.6 519.5,439.2 519.0,440.2 517.5,440.7 514.4,440.9 511.5,440.9 507.3,440.7 504.4,440.4 501.2,439.9 499.4,439.1 497.8,437.5 498.2,436.5M517.7,395.4 519.8,394.9 521.0,395.1 522.1,396.2 521.9,397.0 520.3,398.0 519.1,397.8 517.5,396.2 517.7,395.4M518.8,404.3 519.8,403.9 520.4,404.2 520.8,405.6 520.6,406.3 519.5,406.7 519.0,406.3 518.5,405.0 518.8,404.3M521.9,412.3 524.2,411.9 525.2,412.2 525.4,413.2 524.6,413.8 522.3,414.1 521.3,413.8 521.1,412.9 521.9,412.3M533.4,427.8 535.0,426.2 536.0,425.8 537.1,426.4 537.0,427.4 535.8,429.5 534.8,430.5 533.5,431.1 533.0,430.6 532.9,429.1 533.4,427.8M526.7,434.5 527.7,433.3 528.4,433.1 529.0,433.9 528.8,434.8 527.6,436.3 527.0,436.5 526.5,435.4 526.7,434.5M510.3,388.7 511.8,388.3 512.5,388.6 513.0,389.9 512.6,390.5 511.1,391.0 510.3,390.6 509.9,389.4 510.3,388.7M513.9,417.3 515.0,416.9 515.6,417.1 516.3,417.8 516.1,418.3 515.0,418.7 514.4,418.6 513.8,417.7 513.9,417.3M470.5,409.5 471.8,409.0 472.4,409.2 472.8,410.5 472.5,411.2 471.2,411.6 470.6,411.3 470.2,410.1 470.5,409.5"/>
<g font-size="10.5">
<rect x="109.9" y="132.6" width="12.2" height="9.8" fill="#fff"/><text x="110.9" y="141.4" font-size="11.2" textLength="10.2" lengthAdjust="spacingAndGlyphs" fill="#111">−5</text>
<rect x="280.4" y="111.1" width="12.2" height="9.8" fill="#fff"/><text x="281.4" y="119.9" font-size="11.2" textLength="10.2" lengthAdjust="spacingAndGlyphs" fill="#111">−5</text>
<rect x="520.9" y="82.6" width="12.2" height="9.8" fill="#fff"/><text x="521.9" y="91.4" font-size="11.2" textLength="10.2" lengthAdjust="spacingAndGlyphs" fill="#111">−5</text>
<rect x="183.1" y="161.1" width="6.5" height="9.8" fill="#fff"/><text x="183.9" y="169.9" font-size="11.2" textLength="4.8" lengthAdjust="spacingAndGlyphs" fill="#111">0</text>
<rect x="151.8" y="180.1" width="6.5" height="9.8" fill="#fff"/><text x="152.6" y="188.9" font-size="11.2" textLength="4.8" lengthAdjust="spacingAndGlyphs" fill="#111">0</text>
<rect x="261.8" y="179.9" width="6.5" height="9.8" fill="#fff"/><text x="262.6" y="188.7" font-size="11.2" textLength="4.8" lengthAdjust="spacingAndGlyphs" fill="#111">0</text>
<rect x="396.8" y="91.9" width="6.5" height="9.8" fill="#fff"/><text x="397.6" y="100.7" font-size="11.2" textLength="4.8" lengthAdjust="spacingAndGlyphs" fill="#111">0</text>
<rect x="357.1" y="153.6" width="6.5" height="9.8" fill="#fff"/><text x="357.9" y="162.4" font-size="11.2" textLength="4.8" lengthAdjust="spacingAndGlyphs" fill="#111">0</text>
<rect x="383.2" y="199.9" width="6.5" height="9.8" fill="#fff"/><text x="384.1" y="208.7" font-size="11.2" textLength="4.8" lengthAdjust="spacingAndGlyphs" fill="#111">0</text>
<rect x="554.5" y="97.4" width="6.5" height="9.8" fill="#fff"/><text x="555.4" y="106.2" font-size="11.2" textLength="4.8" lengthAdjust="spacingAndGlyphs" fill="#111">0</text>
<rect x="488.8" y="152.4" width="6.5" height="9.8" fill="#fff"/><text x="489.6" y="161.2" font-size="11.2" textLength="4.8" lengthAdjust="spacingAndGlyphs" fill="#111">0</text>
<rect x="331.2" y="267.6" width="6.5" height="9.8" fill="#fff"/><text x="332.1" y="276.4" font-size="11.2" textLength="4.8" lengthAdjust="spacingAndGlyphs" fill="#111">0</text>
<rect x="440.8" y="237.6" width="6.5" height="9.8" fill="#fff"/><text x="441.6" y="246.4" font-size="11.2" textLength="4.8" lengthAdjust="spacingAndGlyphs" fill="#111">0</text>
<rect x="436.2" y="317.6" width="6.5" height="9.8" fill="#fff"/><text x="437.1" y="326.4" font-size="11.2" textLength="4.8" lengthAdjust="spacingAndGlyphs" fill="#111">0</text>
<rect x="305.1" y="358.4" width="6.5" height="9.8" fill="#fff"/><text x="305.9" y="367.2" font-size="11.2" textLength="4.8" lengthAdjust="spacingAndGlyphs" fill="#111">0</text>
<rect x="550.0" y="268.6" width="6.5" height="9.8" fill="#fff"/><text x="550.9" y="277.4" font-size="11.2" textLength="4.8" lengthAdjust="spacingAndGlyphs" fill="#111">0</text>
<rect x="199.8" y="265.1" width="6.5" height="9.8" fill="#fff"/><text x="200.6" y="273.9" font-size="11.2" textLength="4.8" lengthAdjust="spacingAndGlyphs" fill="#111">5</text>
<rect x="99.2" y="320.9" width="6.5" height="9.8" fill="#fff"/><text x="100.1" y="329.7" font-size="11.2" textLength="4.8" lengthAdjust="spacingAndGlyphs" fill="#111">5</text>
<rect x="130.1" y="411.6" width="6.5" height="9.8" fill="#fff"/><text x="130.9" y="420.4" font-size="11.2" textLength="4.8" lengthAdjust="spacingAndGlyphs" fill="#111">5</text>
<rect x="256.8" y="375.1" width="6.5" height="9.8" fill="#fff"/><text x="257.6" y="383.9" font-size="11.2" textLength="4.8" lengthAdjust="spacingAndGlyphs" fill="#111">5</text>
<rect x="370.6" y="336.9" width="6.5" height="9.8" fill="#fff"/><text x="371.4" y="345.7" font-size="11.2" textLength="4.8" lengthAdjust="spacingAndGlyphs" fill="#111">5</text>
<rect x="536.8" y="314.4" width="6.5" height="9.8" fill="#fff"/><text x="537.6" y="323.2" font-size="11.2" textLength="4.8" lengthAdjust="spacingAndGlyphs" fill="#111">5</text>
<rect x="218.9" y="395.4" width="12.2" height="9.8" fill="#fff"/><text x="219.9" y="404.2" font-size="11.2" textLength="10.2" lengthAdjust="spacingAndGlyphs" fill="#111">10</text>
<rect x="376.7" y="361.4" width="12.2" height="9.8" fill="#fff"/><text x="377.7" y="370.2" font-size="11.2" textLength="10.2" lengthAdjust="spacingAndGlyphs" fill="#111">10</text>
<rect x="534.2" y="339.4" width="12.2" height="9.8" fill="#fff"/><text x="535.2" y="348.2" font-size="11.2" textLength="10.2" lengthAdjust="spacingAndGlyphs" fill="#111">10</text>
<rect x="127.2" y="506.9" width="12.2" height="9.8" fill="#fff"/><text x="128.2" y="515.7" font-size="11.2" textLength="10.2" lengthAdjust="spacingAndGlyphs" fill="#111">15</text>
<rect x="262.4" y="437.9" width="12.2" height="9.8" fill="#fff"/><text x="263.4" y="446.7" font-size="11.2" textLength="10.2" lengthAdjust="spacingAndGlyphs" fill="#111">15</text>
<rect x="420.2" y="383.1" width="12.2" height="9.8" fill="#fff"/><text x="421.2" y="391.9" font-size="11.2" textLength="10.2" lengthAdjust="spacingAndGlyphs" fill="#111">15</text>
<rect x="543.2" y="374.9" width="12.2" height="9.8" fill="#fff"/><text x="544.2" y="383.7" font-size="11.2" textLength="10.2" lengthAdjust="spacingAndGlyphs" fill="#111">15</text>
<rect x="288.9" y="468.9" width="12.2" height="9.8" fill="#fff"/><text x="289.9" y="477.7" font-size="11.2" textLength="10.2" lengthAdjust="spacingAndGlyphs" fill="#111">20</text>
<rect x="411.4" y="434.6" width="12.2" height="9.8" fill="#fff"/><text x="412.4" y="443.4" font-size="11.2" textLength="10.2" lengthAdjust="spacingAndGlyphs" fill="#111">20</text>
<rect x="460.4" y="420.1" width="12.2" height="9.8" fill="#fff"/><text x="461.4" y="428.9" font-size="11.2" textLength="10.2" lengthAdjust="spacingAndGlyphs" fill="#111">20</text>
<rect x="582.2" y="531.6" width="12.2" height="9.8" fill="#fff"/><text x="583.2" y="540.4" font-size="11.2" textLength="10.2" lengthAdjust="spacingAndGlyphs" fill="#111">20</text>
</g>
</g>
<!-- titles -->
<g fill="#000" font-size="16">
<text x="67.3" y="34.6" textLength="116.5" lengthAdjust="spacingAndGlyphs">TEMPERATURA</text>
<text x="193.3" y="34.6" textLength="8.5" lengthAdjust="spacingAndGlyphs">a</text>
<text x="213.0" y="34.6" textLength="31.5" lengthAdjust="spacingAndGlyphs">850</text>
<text x="255.5" y="34.6" textLength="32.0" lengthAdjust="spacingAndGlyphs">hPa</text>
<text x="298.2" y="34.6" textLength="72.5" lengthAdjust="spacingAndGlyphs">(~1.500</text>
<text x="378.0" y="34.6" textLength="25.0" lengthAdjust="spacingAndGlyphs">m)</text>
</g>
<g fill="#000" font-size="22.5" stroke="#fff" stroke-width="0.4">
<text x="66.8" y="65.8" textLength="73.5" lengthAdjust="spacingAndGlyphs">Dilluns</text>
<text x="197.2" y="65.8" textLength="136.5" lengthAdjust="spacingAndGlyphs">27.oct.2025</text>
<text x="347.0" y="65.8" textLength="42.5" lengthAdjust="spacingAndGlyphs">06h</text>
<text x="404.3" y="65.8" textLength="41.5" lengthAdjust="spacingAndGlyphs">UTC</text>
</g>
<g fill="#000" font-size="14.8" stroke="#000" stroke-width="0.3">
<text x="153.0" y="564.8" textLength="45.5" lengthAdjust="spacingAndGlyphs">model</text>
<text x="206.0" y="564.8" textLength="29.0" lengthAdjust="spacingAndGlyphs">GFS</text>
<text x="242.0" y="564.8" textLength="32.7" lengthAdjust="spacingAndGlyphs">0.50</text>
<text x="283.4" y="564.8" textLength="44.8" lengthAdjust="spacingAndGlyphs">iniciat</text>
<text x="337" y="564.8" textLength="7" lengthAdjust="spacingAndGlyphs">a</text>
<text x="352.4" y="564.8" textLength="23.8" lengthAdjust="spacingAndGlyphs">les</text>
<text x="383.0" y="564.8" textLength="18.9" lengthAdjust="spacingAndGlyphs">00</text>
<text x="409.0" y="564.8" textLength="29.5" lengthAdjust="spacingAndGlyphs">UTC</text>
<text x="446.0" y="564.8" textLength="22.8" lengthAdjust="spacingAndGlyphs">del</text>
<text x="475.6" y="564.8" textLength="18.8" lengthAdjust="spacingAndGlyphs">21</text>
<text x="503.9" y="564.8" textLength="21.5" lengthAdjust="spacingAndGlyphs">oct</text>
<text x="534.8" y="564.8" textLength="36.9" lengthAdjust="spacingAndGlyphs">2025</text>
</g>
<!-- colour bar -->
<rect x="691" y="62.00" width="15" height="19.45" fill="#be381a"/>
<rect x="691" y="80.95" width="15" height="19.45" fill="#d54c20"/>
<rect x="691" y="99.89" width="15" height="19.45" fill="#ee6024"/>
<rect x="691" y="118.84" width="15" height="19.45" fill="#ff7228"/>
<rect x="691" y="137.78" width="15" height="19.45" fill="#ff8a2c"/>
<rect x="691" y="156.73" width="15" height="19.45" fill="#fea430"/>
<rect x="691" y="175.68" width="15" height="19.45" fill="#febc34"/>
<rect x="691" y="194.62" width="15" height="19.45" fill="#fcda3a"/>
<rect x="691" y="213.57" width="15" height="19.45" fill="#e4d83e"/>
<rect x="691" y="232.52" width="15" height="19.45" fill="#cad43e"/>
<rect x="691" y="251.46" width="15" height="19.45" fill="#b0d041"/>
<rect x="691" y="270.41" width="15" height="19.45" fill="#96cc4b"/>
<rect x="691" y="289.35" width="15" height="19.45" fill="#7ccc4e"/>
<rect x="691" y="308.30" width="15" height="19.45" fill="#56be74"/>
<rect x="691" y="327.25" width="15" height="19.45" fill="#35b29b"/>
<rect x="691" y="346.19" width="15" height="19.45" fill="#1aa4cc"/>
<rect x="691" y="365.14" width="15" height="19.45" fill="#2296fa"/>
<rect x="691" y="384.08" width="15" height="19.45" fill="#2680e2"/>
<rect x="691" y="403.03" width="15" height="19.45" fill="#2868ce"/>
<rect x="691" y="421.98" width="15" height="19.45" fill="#284eb8"/>
<rect x="691" y="440.92" width="15" height="19.45" fill="#24369b"/>
<rect x="691" y="459.87" width="15" height="19.45" fill="#8000ff"/>
<rect x="691" y="478.82" width="15" height="19.45" fill="#9832ff"/>
<rect x="691" y="497.76" width="15" height="19.45" fill="#b066ff"/>
<rect x="691" y="516.71" width="15" height="19.45" fill="#ca9aff"/>
<rect x="691" y="535.65" width="15" height="19.45" fill="#e4ceff"/>
<g fill="#000" font-size="16">
<text x="710.5" y="86.5" textLength="18.8" lengthAdjust="spacingAndGlyphs">30</text>
<text x="710.5" y="105.5" textLength="18.8" lengthAdjust="spacingAndGlyphs">28</text>
<text x="710.5" y="124.4" textLength="18.8" lengthAdjust="spacingAndGlyphs">26</text>
<text x="710.5" y="143.4" textLength="18.8" lengthAdjust="spacingAndGlyphs">24</text>
<text x="710.5" y="162.3" textLength="18.8" lengthAdjust="spacingAndGlyphs">22</text>
<text x="710.5" y="181.3" textLength="18.8" lengthAdjust="spacingAndGlyphs">20</text>
<text x="710.5" y="200.2" textLength="18.8" lengthAdjust="spacingAndGlyphs">18</text>
<text x="710.5" y="219.2" textLength="18.8" lengthAdjust="spacingAndGlyphs">16</text>
<text x="710.5" y="238.1" textLength="18.8" lengthAdjust="spacingAndGlyphs">14</text>
<text x="710.5" y="257.1" textLength="18.8" lengthAdjust="spacingAndGlyphs">12</text>
<text x="710.5" y="276.0" textLength="18.8" lengthAdjust="spacingAndGlyphs">10</text>
<text x="710.5" y="295.0" textLength="8.6" lengthAdjust="spacingAndGlyphs">8</text>
<text x="710.5" y="313.9" textLength="8.6" lengthAdjust="spacingAndGlyphs">6</text>
<text x="710.5" y="332.8" textLength="8.6" lengthAdjust="spacingAndGlyphs">4</text>
<text x="710.5" y="351.8" textLength="8.6" lengthAdjust="spacingAndGlyphs">2</text>
<text x="710.5" y="370.7" textLength="8.6" lengthAdjust="spacingAndGlyphs">0</text>
<path d="M711.3,384.3h9.7" stroke="#000" stroke-width="1.5" fill="none"/>
<text x="724.0" y="389.7" textLength="8.6" lengthAdjust="spacingAndGlyphs">2</text>
<path d="M711.3,403.2h9.7" stroke="#000" stroke-width="1.5" fill="none"/>
<text x="724.0" y="408.6" textLength="8.6" lengthAdjust="spacingAndGlyphs">4</text>
<path d="M711.3,422.2h9.7" stroke="#000" stroke-width="1.5" fill="none"/>
<text x="724.0" y="427.6" textLength="8.6" lengthAdjust="spacingAndGlyphs">6</text>
<path d="M711.3,441.1h9.7" stroke="#000" stroke-width="1.5" fill="none"/>
<text x="724.0" y="446.5" textLength="8.6" lengthAdjust="spacingAndGlyphs">8</text>
<path d="M711.3,460.1h9.7" stroke="#000" stroke-width="1.5" fill="none"/>
<text x="724.0" y="465.5" textLength="18.8" lengthAdjust="spacingAndGlyphs">10</text>
<path d="M711.3,479.0h9.7" stroke="#000" stroke-width="1.5" fill="none"/>
<text x="724.0" y="484.4" textLength="18.8" lengthAdjust="spacingAndGlyphs">12</text>
<path d="M711.3,498.0h9.7" stroke="#000" stroke-width="1.5" fill="none"/>
<text x="724.0" y="503.4" textLength="18.8" lengthAdjust="spacingAndGlyphs">14</text>
<path d="M711.3,516.9h9.7" stroke="#000" stroke-width="1.5" fill="none"/>
<text x="724.0" y="522.3" textLength="18.8" lengthAdjust="spacingAndGlyphs">16</text>
<path d="M711.3,535.9h9.7" stroke="#000" stroke-width="1.5" fill="none"/>
<text x="724.0" y="541.3" textLength="18.8" lengthAdjust="spacingAndGlyphs">18</text>
</g>
</svg>
</body></html>
